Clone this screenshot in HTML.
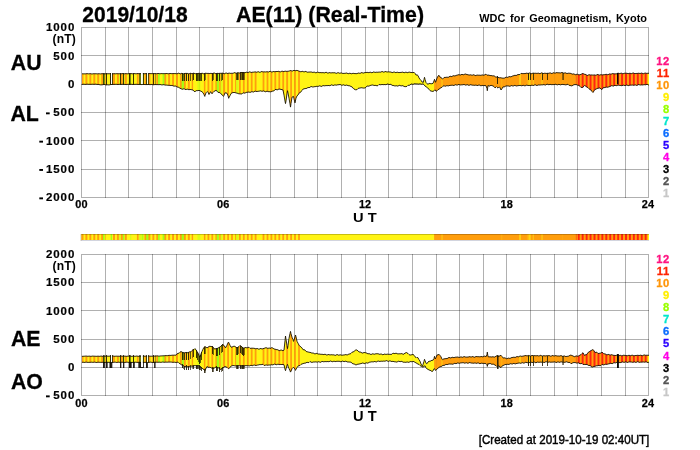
<!DOCTYPE html>
<html><head><meta charset="utf-8"><title>AE(11) (Real-Time) 2019/10/18</title>
<style>html,body{margin:0;padding:0;background:#fff;overflow:hidden}body{width:700px;height:450px;font-family:"Liberation Sans",sans-serif}</style>
</head><body>
<svg width="700" height="450" viewBox="0 0 700 450" style="display:block;will-change:transform"><rect width="700" height="450" fill="#fff"/><g stroke="#000" stroke-opacity="0.31" stroke-width="1" shape-rendering="crispEdges" fill="none"><line x1="81.5" y1="28.0" x2="81.5" y2="197.0"/><line x1="81.5" y1="255.0" x2="81.5" y2="395.0"/><line x1="105.5" y1="27.0" x2="105.5" y2="198.0"/><line x1="105.5" y1="254.0" x2="105.5" y2="396.0"/><line x1="128.5" y1="27.0" x2="128.5" y2="198.0"/><line x1="128.5" y1="254.0" x2="128.5" y2="396.0"/><line x1="152.5" y1="27.0" x2="152.5" y2="198.0"/><line x1="152.5" y1="254.0" x2="152.5" y2="396.0"/><line x1="176.5" y1="27.0" x2="176.5" y2="198.0"/><line x1="176.5" y1="254.0" x2="176.5" y2="396.0"/><line x1="199.5" y1="27.0" x2="199.5" y2="198.0"/><line x1="199.5" y1="254.0" x2="199.5" y2="396.0"/><line x1="223.5" y1="27.0" x2="223.5" y2="198.0"/><line x1="223.5" y1="254.0" x2="223.5" y2="396.0"/><line x1="247.5" y1="27.0" x2="247.5" y2="198.0"/><line x1="247.5" y1="254.0" x2="247.5" y2="396.0"/><line x1="270.5" y1="27.0" x2="270.5" y2="198.0"/><line x1="270.5" y1="254.0" x2="270.5" y2="396.0"/><line x1="294.5" y1="27.0" x2="294.5" y2="198.0"/><line x1="294.5" y1="254.0" x2="294.5" y2="396.0"/><line x1="317.5" y1="27.0" x2="317.5" y2="198.0"/><line x1="317.5" y1="254.0" x2="317.5" y2="396.0"/><line x1="341.5" y1="27.0" x2="341.5" y2="198.0"/><line x1="341.5" y1="254.0" x2="341.5" y2="396.0"/><line x1="365.5" y1="27.0" x2="365.5" y2="198.0"/><line x1="365.5" y1="254.0" x2="365.5" y2="396.0"/><line x1="388.5" y1="27.0" x2="388.5" y2="198.0"/><line x1="388.5" y1="254.0" x2="388.5" y2="396.0"/><line x1="412.5" y1="27.0" x2="412.5" y2="198.0"/><line x1="412.5" y1="254.0" x2="412.5" y2="396.0"/><line x1="436.5" y1="27.0" x2="436.5" y2="198.0"/><line x1="436.5" y1="254.0" x2="436.5" y2="396.0"/><line x1="459.5" y1="27.0" x2="459.5" y2="198.0"/><line x1="459.5" y1="254.0" x2="459.5" y2="396.0"/><line x1="483.5" y1="27.0" x2="483.5" y2="198.0"/><line x1="483.5" y1="254.0" x2="483.5" y2="396.0"/><line x1="506.5" y1="27.0" x2="506.5" y2="198.0"/><line x1="506.5" y1="254.0" x2="506.5" y2="396.0"/><line x1="530.5" y1="27.0" x2="530.5" y2="198.0"/><line x1="530.5" y1="254.0" x2="530.5" y2="396.0"/><line x1="554.5" y1="27.0" x2="554.5" y2="198.0"/><line x1="554.5" y1="254.0" x2="554.5" y2="396.0"/><line x1="577.5" y1="27.0" x2="577.5" y2="198.0"/><line x1="577.5" y1="254.0" x2="577.5" y2="396.0"/><line x1="601.5" y1="27.0" x2="601.5" y2="198.0"/><line x1="601.5" y1="254.0" x2="601.5" y2="396.0"/><line x1="625.5" y1="27.0" x2="625.5" y2="198.0"/><line x1="625.5" y1="254.0" x2="625.5" y2="396.0"/><line x1="648.5" y1="28.0" x2="648.5" y2="197.0"/><line x1="648.5" y1="255.0" x2="648.5" y2="395.0"/><line x1="81.0" y1="27.5" x2="649.0" y2="27.5"/><line x1="81.0" y1="55.5" x2="649.0" y2="55.5"/><line x1="81.0" y1="84.5" x2="649.0" y2="84.5"/><line x1="81.0" y1="112.5" x2="649.0" y2="112.5"/><line x1="81.0" y1="140.5" x2="649.0" y2="140.5"/><line x1="81.0" y1="169.5" x2="649.0" y2="169.5"/><line x1="81.0" y1="197.5" x2="649.0" y2="197.5"/><line x1="81.0" y1="254.5" x2="649.0" y2="254.5"/><line x1="81.0" y1="282.5" x2="649.0" y2="282.5"/><line x1="81.0" y1="310.5" x2="649.0" y2="310.5"/><line x1="81.0" y1="339.5" x2="649.0" y2="339.5"/><line x1="81.0" y1="367.5" x2="649.0" y2="367.5"/><line x1="81.0" y1="395.5" x2="649.0" y2="395.5"/></g><defs><filter id="idf" x="0" y="0" width="700" height="450" filterUnits="userSpaceOnUse" color-interpolation-filters="sRGB"><feOffset dx="0" dy="0"/></filter><clipPath id="c1"><polygon points="82.0,73.7 82.0,73.7 83.0,73.9 84.0,73.8 85.0,73.9 86.0,73.8 87.0,73.6 88.0,73.8 89.0,73.9 90.0,73.6 91.0,73.8 92.0,74.0 93.0,73.8 94.0,73.7 95.0,73.8 96.0,73.7 97.0,73.9 98.0,73.8 99.0,73.7 100.0,73.9 101.0,73.9 102.0,73.6 103.0,73.8 104.0,73.9 105.0,73.8 106.0,73.8 107.0,73.8 108.0,73.7 109.0,73.8 110.0,73.7 111.0,73.6 112.0,74.0 113.0,73.9 114.0,73.6 115.0,73.8 116.0,73.8 117.0,73.6 118.0,73.8 119.0,73.7 120.0,73.8 121.0,73.9 122.0,73.6 123.0,73.6 124.0,73.9 125.0,73.7 126.0,73.6 127.0,73.8 128.0,73.8 129.0,73.6 130.0,73.7 131.0,73.6 132.0,73.7 133.0,73.9 134.0,73.6 135.0,73.6 136.0,73.9 137.0,73.6 138.0,73.5 139.0,73.8 140.0,73.7 141.0,73.7 142.0,73.7 143.0,73.5 144.0,73.7 145.0,73.8 146.0,73.5 147.0,73.7 148.0,73.9 149.0,73.6 150.0,73.5 151.0,73.7 152.0,73.6 153.0,73.7 154.0,73.7 155.0,73.5 156.0,73.8 157.0,73.7 158.0,73.4 159.0,73.6 160.0,73.8 161.0,73.6 162.0,73.6 163.0,73.7 164.0,73.6 165.0,73.7 166.0,73.5 167.0,73.5 168.0,73.8 169.0,73.7 170.0,73.4 171.0,73.6 172.0,73.7 173.0,73.5 174.0,73.6 175.0,73.6 176.0,73.6 177.0,73.9 178.0,73.3 179.0,73.1 180.0,74.0 181.0,73.6 182.0,73.2 183.0,73.9 184.0,73.7 185.0,73.3 186.0,73.5 187.0,73.3 188.0,73.6 189.0,74.0 190.0,73.3 191.0,73.3 192.0,73.9 193.0,73.3 194.0,73.1 195.0,73.8 196.0,73.7 197.0,73.6 198.0,73.6 199.0,73.2 200.0,73.5 201.0,73.7 202.0,73.1 203.0,73.5 204.0,74.0 205.0,73.3 206.0,73.2 207.0,73.5 208.0,73.3 209.0,73.5 210.0,73.6 211.0,73.2 212.0,73.7 213.0,73.6 214.0,72.8 215.0,73.4 216.0,73.8 217.0,73.3 218.0,73.4 219.0,73.5 220.0,73.2 221.0,73.4 222.0,73.2 223.0,73.1 224.0,73.8 225.0,73.6 226.0,72.8 227.0,73.4 228.0,73.5 229.0,73.0 230.0,73.3 231.0,73.4 232.0,73.2 233.0,73.4 234.0,72.8 235.0,72.6 236.0,73.4 237.0,73.0 238.0,72.5 239.0,73.1 240.0,72.9 241.0,72.4 242.0,72.6 243.0,72.4 244.0,72.6 245.0,72.9 246.0,72.2 247.0,72.2 248.0,72.7 249.0,72.0 250.0,71.8 251.0,72.5 252.0,72.3 253.0,72.1 254.0,72.2 255.0,71.8 256.0,72.1 257.0,72.3 258.0,71.6 259.0,72.0 260.0,72.5 261.0,71.7 262.0,71.5 263.0,72.0 264.0,71.8 265.0,71.9 266.0,72.0 267.0,71.6 268.0,72.0 269.0,71.9 270.0,71.1 271.0,71.7 272.0,72.2 273.0,71.5 274.0,71.6 275.0,71.8 276.0,71.4 277.0,71.6 278.0,71.4 279.0,71.3 280.0,72.0 281.0,71.7 282.0,71.0 283.0,71.5 284.0,71.6 285.0,71.1 286.0,71.3 287.0,71.4 288.0,71.2 289.0,71.2 290.0,70.7 291.0,70.5 292.0,71.2 293.0,70.8 294.0,70.2 295.0,70.8 296.0,70.6 297.0,70.3 298.0,70.8 299.0,71.1 300.0,71.5 301.0,71.9 302.0,71.3 303.0,71.4 304.0,72.1 305.0,71.5 306.0,71.4 307.0,72.2 308.0,72.2 309.0,72.0 310.0,72.1 311.0,71.9 312.0,72.2 313.0,72.5 314.0,72.0 315.0,72.4 316.0,73.0 317.0,72.2 318.0,72.1 319.0,72.7 320.0,72.6 321.0,72.6 322.0,72.8 323.0,72.5 324.0,72.9 325.0,72.8 326.0,72.1 327.0,72.7 328.0,73.3 329.0,72.6 330.0,72.7 331.0,73.0 332.0,72.7 333.0,72.8 334.0,72.8 335.0,72.7 336.0,73.4 337.0,73.2 338.0,72.5 339.0,73.1 340.0,73.3 341.0,72.8 342.0,73.2 343.0,73.5 344.0,73.3 345.0,73.4 346.0,73.1 347.0,73.0 348.0,73.8 349.0,73.5 350.0,73.1 351.0,73.8 352.0,73.7 353.0,73.2 354.0,73.5 355.0,73.6 356.0,73.6 357.0,73.7 358.0,73.1 359.0,73.0 360.0,73.5 361.0,72.8 362.0,72.5 363.0,73.2 364.0,72.9 365.0,72.5 366.0,72.6 367.0,72.3 368.0,72.5 369.0,72.7 370.0,72.1 371.0,72.4 372.0,72.9 373.0,72.1 374.0,71.9 375.0,72.5 376.0,72.2 377.0,72.2 378.0,72.3 379.0,72.0 380.0,72.2 381.0,72.1 382.0,71.4 383.0,71.9 384.0,72.3 385.0,71.5 386.0,71.6 387.0,72.1 388.0,71.8 389.0,71.9 390.0,72.0 391.0,72.0 392.0,72.6 393.0,72.5 394.0,71.8 395.0,72.4 396.0,72.7 397.0,72.1 398.0,72.4 399.0,72.7 400.0,72.4 401.0,72.5 402.0,72.2 403.0,72.1 404.0,72.8 405.0,72.5 406.0,72.0 407.0,72.7 408.0,72.6 409.0,72.0 410.0,72.3 411.0,72.5 412.0,72.5 413.0,72.7 414.0,72.3 415.0,73.3 416.0,75.1 417.0,74.8 418.0,75.5 419.0,77.9 420.0,79.3 421.0,80.3 422.0,82.0 423.0,82.2 423.3,82.4 424.0,79.4 424.5,77.3 425.0,79.3 426.0,82.5 427.0,83.7 428.0,84.3 429.0,83.5 430.0,83.4 431.0,83.9 432.0,83.6 433.0,83.4 434.0,80.9 434.5,79.3 435.0,80.7 435.5,82.3 436.0,81.0 437.0,78.1 438.0,76.1 439.0,75.3 440.0,77.1 441.0,77.5 442.0,78.4 442.5,79.0 443.0,78.8 444.0,77.5 445.0,77.4 446.0,77.4 447.0,77.1 448.0,77.4 449.0,77.0 450.0,76.1 451.0,76.5 452.0,76.6 453.0,75.7 454.0,75.8 455.0,76.0 456.0,75.4 457.0,75.2 458.0,74.9 459.0,74.6 460.0,75.1 461.0,74.8 462.0,74.2 463.0,74.8 464.0,74.7 465.0,73.9 466.0,74.2 467.0,74.6 468.0,74.7 469.0,75.1 470.0,74.9 471.0,74.8 472.0,75.4 473.0,74.9 474.0,74.7 475.0,75.6 476.0,75.5 477.0,75.0 478.0,75.2 479.0,75.2 480.0,75.2 481.0,75.4 482.0,74.9 483.0,75.0 484.0,75.4 485.0,74.5 486.0,74.2 487.0,75.2 488.0,75.1 489.0,75.1 490.0,75.6 491.0,75.5 492.0,75.7 493.0,76.0 494.0,75.7 495.0,76.5 496.0,77.3 497.0,76.8 498.0,77.1 499.0,77.9 500.0,77.7 501.0,77.8 502.0,78.1 503.0,78.1 504.0,78.2 505.0,77.9 506.0,77.0 507.0,77.3 508.0,77.4 509.0,76.5 510.0,76.7 511.0,76.9 512.0,76.2 513.0,75.9 514.0,75.6 515.0,75.2 516.0,75.6 517.0,75.1 518.0,74.4 519.0,74.7 520.0,74.4 521.0,73.4 522.0,73.5 523.0,73.7 524.0,73.5 525.0,73.6 526.0,73.3 527.0,73.1 528.0,73.6 529.0,73.1 530.0,72.9 531.0,73.8 532.0,73.6 533.0,73.0 534.0,73.3 535.0,73.3 536.0,73.2 537.0,73.5 538.0,73.1 539.0,73.3 540.0,73.8 541.0,73.0 542.0,72.8 543.0,73.6 544.0,73.4 545.0,73.1 546.0,73.5 547.0,73.3 548.0,73.3 549.0,73.3 550.0,72.8 551.0,73.2 552.0,73.7 553.0,72.8 554.0,72.8 555.0,73.3 556.0,72.7 557.0,72.6 558.0,72.9 559.0,72.7 560.0,73.0 561.0,72.9 562.0,72.3 563.0,72.9 564.0,73.3 565.0,72.7 566.0,73.1 567.0,73.6 568.0,73.2 569.0,73.2 570.0,73.3 571.0,73.4 572.0,74.1 573.0,74.1 574.0,73.8 575.0,74.7 576.0,74.7 577.0,74.0 578.0,74.5 579.0,74.9 580.0,74.7 581.0,74.4 582.0,73.8 583.0,73.4 584.0,74.2 585.0,74.3 586.0,74.6 587.0,75.5 588.0,75.3 589.0,74.6 590.0,75.0 591.0,75.0 592.0,74.9 593.0,75.2 594.0,74.9 595.0,75.0 596.0,75.4 597.0,74.6 598.0,74.4 599.0,75.2 600.0,75.0 601.0,74.6 602.0,75.0 603.0,74.8 604.0,74.7 605.0,74.7 606.0,74.2 607.0,74.5 608.0,74.9 609.0,74.0 610.0,73.9 611.0,74.3 612.0,73.7 613.0,73.6 614.0,73.9 615.0,73.8 616.0,73.9 617.0,73.7 618.0,73.0 619.0,73.5 620.0,73.7 621.0,73.0 622.0,73.4 623.0,73.9 624.0,73.3 625.0,73.2 626.0,73.3 627.0,73.2 628.0,73.7 629.0,73.5 630.0,73.1 631.0,73.7 632.0,73.6 633.0,72.8 634.0,73.3 635.0,73.7 636.0,73.4 637.0,73.5 638.0,73.3 639.0,73.2 640.0,73.6 641.0,73.2 642.0,73.0 643.0,73.8 644.0,73.6 645.0,72.9 646.0,73.3 647.0,73.4 648.0,73.2 649.0,73.4 649.0,85.2 648.0,84.7 647.0,84.2 646.0,84.8 645.0,84.8 644.0,84.6 643.0,85.0 642.0,84.9 641.0,84.9 640.0,85.1 639.0,84.5 638.0,84.7 637.0,85.6 636.0,85.1 635.0,84.8 634.0,85.4 633.0,85.1 632.0,85.0 631.0,85.2 630.0,85.1 629.0,85.5 628.0,85.7 627.0,84.9 626.0,85.2 625.0,85.8 624.0,85.1 623.0,85.2 622.0,85.8 621.0,85.5 620.0,85.4 619.0,85.3 618.0,85.0 617.0,85.6 616.0,85.7 615.0,85.2 614.0,85.8 613.0,86.2 612.0,85.5 611.0,85.9 610.0,86.6 609.0,86.7 608.0,87.2 607.0,87.2 606.0,87.0 605.0,87.7 604.0,87.5 603.0,87.9 602.0,89.5 601.0,89.1 600.0,87.9 599.0,88.1 598.0,88.3 597.0,88.5 596.0,89.2 595.0,89.4 594.0,90.9 593.0,92.5 592.0,91.5 591.0,90.0 590.0,89.6 589.0,88.8 588.0,87.6 587.0,87.2 586.0,86.4 585.0,85.7 584.5,85.4 584.0,86.2 583.0,86.9 582.5,87.9 582.0,87.3 581.0,87.5 580.0,86.3 579.0,85.4 578.0,85.3 577.0,84.9 576.0,84.5 575.0,84.7 574.0,84.6 573.0,85.3 572.0,85.8 571.0,85.9 570.0,85.3 569.0,85.4 568.0,84.3 567.0,84.4 566.0,85.0 565.0,84.7 564.0,84.6 563.0,84.5 562.0,84.3 561.0,84.8 560.0,84.9 559.0,84.2 558.0,84.7 557.0,85.0 556.0,84.2 555.0,84.3 554.0,84.7 553.0,84.5 552.0,84.7 551.0,84.6 550.0,84.3 549.0,84.8 548.0,84.5 547.0,84.0 546.0,84.9 545.0,85.1 544.0,84.5 543.0,84.8 542.0,84.9 541.0,84.8 540.0,85.1 539.0,84.9 538.0,85.0 537.0,85.6 536.0,85.2 535.0,84.6 534.0,85.4 533.0,85.5 532.0,85.1 531.0,85.5 530.0,85.5 529.0,85.4 528.0,85.6 527.0,85.1 526.0,85.3 525.0,86.0 524.0,85.5 523.0,85.2 522.0,85.9 521.0,85.6 520.0,85.3 519.0,85.6 518.0,85.6 517.0,85.9 516.0,86.0 515.0,85.3 514.0,85.6 513.0,86.2 512.0,85.6 511.0,85.6 510.0,86.4 509.0,86.1 508.0,85.9 507.0,86.0 506.0,85.8 505.0,86.6 504.0,87.0 503.0,86.8 502.0,88.7 501.0,90.0 500.0,87.7 499.5,87.1 499.0,87.1 498.0,88.1 497.0,87.2 496.5,86.7 496.0,87.2 495.0,87.9 494.0,86.6 493.0,85.9 492.0,85.7 491.0,85.2 490.0,85.9 489.0,86.2 488.0,85.4 487.3,90.7 487.0,88.5 486.0,85.8 485.0,85.4 484.0,85.7 483.0,85.5 482.0,85.4 481.0,85.9 480.0,85.4 479.0,84.8 478.0,85.5 477.0,85.5 476.0,85.0 475.0,85.3 474.0,85.3 473.0,85.1 472.0,85.2 471.0,84.7 470.0,84.8 469.0,85.5 468.0,84.9 467.0,84.6 466.0,85.2 465.0,84.9 464.0,84.4 463.0,84.8 462.0,84.8 461.0,84.9 460.0,85.0 459.0,84.4 458.0,84.7 457.0,85.3 456.0,84.7 455.0,84.8 454.0,85.6 453.0,85.3 452.0,85.1 451.0,85.4 450.0,85.3 449.0,85.7 448.0,86.0 447.0,85.5 446.0,86.0 445.0,86.3 444.0,85.6 443.0,86.2 442.0,87.3 441.0,87.7 440.0,88.4 439.0,89.2 438.0,89.7 437.0,90.8 436.0,91.3 435.0,89.8 434.0,90.8 433.0,91.5 432.0,91.2 431.0,91.1 430.0,90.6 429.0,89.2 428.0,88.3 427.0,87.5 426.0,86.6 425.0,86.1 424.0,84.7 423.0,83.8 422.0,84.2 421.0,84.2 420.0,83.7 419.0,84.1 418.0,84.1 417.0,83.8 416.0,84.0 415.0,83.7 414.0,83.8 413.0,84.5 412.0,84.0 411.0,84.0 410.0,85.1 409.0,85.3 408.0,85.3 407.0,86.3 406.0,86.7 405.0,86.6 404.0,86.5 403.0,85.7 402.0,85.7 401.0,86.0 400.0,85.4 399.0,85.3 398.0,86.2 397.0,85.9 396.0,85.7 395.0,86.1 394.0,85.6 393.0,85.5 392.0,85.3 391.0,84.4 390.0,84.3 389.0,84.7 388.0,83.9 387.0,84.1 386.0,84.8 385.0,84.5 384.0,84.6 383.0,84.7 382.0,84.4 381.0,84.8 380.0,84.7 379.0,84.5 378.0,85.5 377.0,85.9 376.0,85.4 375.0,85.4 374.0,85.5 373.0,85.0 372.0,85.0 371.0,85.3 370.0,85.5 369.0,86.2 368.0,86.1 367.0,86.0 366.0,87.3 365.0,87.9 364.0,88.1 363.0,88.0 362.0,87.8 361.0,87.7 360.0,88.1 359.0,88.1 358.0,88.5 357.0,89.7 356.0,89.7 355.5,90.0 355.0,89.2 354.0,89.2 353.0,88.1 352.0,86.8 351.0,86.6 350.0,85.9 349.0,85.7 348.0,85.7 347.0,85.1 346.0,85.1 345.0,85.6 344.0,84.9 343.0,84.8 342.0,85.4 341.0,84.9 340.0,84.4 339.0,84.8 338.0,84.7 337.0,85.0 336.0,85.2 335.0,84.8 334.0,85.2 333.0,85.6 332.0,84.8 331.0,85.0 330.0,85.8 329.0,85.5 328.0,85.5 327.0,85.7 326.0,85.5 325.0,85.8 324.0,85.8 323.0,85.5 322.0,86.2 321.0,86.5 320.0,85.7 319.0,86.0 318.0,86.5 317.0,86.2 316.0,86.5 315.0,86.7 314.0,86.7 313.0,87.1 312.0,86.8 311.0,86.4 310.0,87.3 309.0,87.7 308.0,87.4 307.0,88.2 306.0,88.6 305.0,88.5 304.0,88.9 303.0,89.1 302.0,90.3 301.0,91.9 300.0,92.5 299.0,93.2 298.0,95.0 297.0,95.9 296.0,98.1 295.0,102.9 294.0,98.8 293.5,96.4 293.0,96.7 292.0,97.2 291.0,103.5 290.5,107.1 290.0,103.9 289.0,98.2 288.0,92.9 287.5,90.7 287.0,93.7 286.0,100.9 285.5,103.6 285.0,101.0 284.0,95.1 283.0,90.0 282.0,89.6 281.0,89.4 280.0,89.2 279.0,89.0 278.0,89.5 277.0,90.0 276.0,89.3 275.0,89.7 274.0,90.9 273.0,91.0 272.0,91.3 271.0,91.9 270.0,91.7 269.0,91.7 268.0,91.6 267.0,91.1 266.0,91.7 265.0,91.8 264.0,90.9 263.0,91.0 262.0,91.4 261.0,90.9 260.0,90.9 259.0,91.3 258.0,91.2 257.0,91.6 256.0,91.4 255.0,91.0 254.0,91.9 253.0,92.1 252.0,91.5 251.0,92.1 250.0,92.4 249.0,92.0 248.0,92.2 247.0,92.3 246.0,92.4 245.0,93.2 244.0,93.0 243.0,92.8 242.0,93.9 241.0,94.0 240.0,93.8 239.0,93.9 238.0,93.5 237.0,93.1 236.0,93.0 235.0,92.5 234.0,92.5 233.0,92.5 232.0,92.9 231.0,93.5 230.0,95.7 229.0,97.6 228.7,98.3 228.0,95.8 227.0,93.2 226.0,93.0 225.0,92.8 224.0,95.4 223.5,96.4 223.0,95.7 222.0,94.8 221.0,93.9 220.0,92.7 219.0,92.5 218.0,92.4 217.0,91.1 216.0,90.2 215.0,91.0 214.0,91.3 213.0,92.4 212.0,93.8 211.0,92.1 210.5,91.7 210.0,92.9 209.0,94.5 208.0,92.2 207.5,91.7 207.0,91.8 206.0,92.8 205.0,95.6 204.8,96.4 204.0,94.6 203.0,92.7 202.0,91.8 201.0,91.2 200.0,90.8 199.0,90.2 198.0,90.8 197.0,90.5 196.0,90.8 195.0,91.7 194.0,91.3 193.0,90.0 192.0,89.8 191.0,89.6 190.0,89.4 189.0,89.8 188.0,89.4 187.0,89.0 186.0,89.7 185.0,89.3 184.0,88.6 183.0,89.2 182.0,89.2 181.0,88.7 180.0,88.3 179.0,87.5 178.0,87.0 177.0,87.1 176.0,86.1 175.0,86.0 174.0,86.2 173.0,85.8 172.0,85.4 171.0,85.5 170.0,85.4 169.0,85.3 168.0,85.3 167.0,85.1 166.0,85.1 165.0,85.1 164.0,84.7 163.0,84.7 162.0,85.0 161.0,84.7 160.0,84.5 159.0,84.7 158.0,84.6 157.0,84.6 156.0,84.6 155.0,84.5 154.0,84.7 153.0,84.8 152.0,84.4 151.0,84.5 150.0,84.7 149.0,84.5 148.0,84.5 147.0,84.6 146.0,84.5 145.0,84.6 144.0,84.4 143.0,84.3 142.0,84.5 141.0,84.6 140.0,84.3 139.0,84.4 138.0,84.5 137.0,84.3 136.0,84.3 135.0,84.4 134.0,84.4 133.0,84.5 132.0,84.4 131.0,84.2 130.0,84.5 129.0,84.4 128.0,84.2 127.0,84.5 126.0,84.6 125.0,84.4 124.0,84.4 123.0,84.3 122.0,84.3 121.0,84.5 120.0,84.3 119.0,84.3 118.0,84.6 117.0,84.4 116.0,84.2 115.0,84.4 114.0,84.4 113.0,84.4 112.0,84.5 111.0,84.5 110.0,84.7 109.0,85.0 108.0,84.8 107.0,84.8 106.0,85.0 105.0,84.6 104.0,84.4 103.0,84.7 102.0,84.8 101.0,84.9 100.0,84.8 99.0,84.5 98.0,84.4 97.0,84.5 96.0,84.1 95.0,84.2 94.0,84.4 93.0,84.2 92.0,84.2 91.0,84.4 90.0,84.3 89.0,84.3 88.0,84.3 87.0,84.1 86.0,84.4 85.0,84.4 84.0,84.2 83.0,84.3 82.0,84.4 82.0,84.2"/></clipPath><clipPath id="c2"><polygon points="82.0,356.1 82.0,356.3 83.0,356.3 84.0,356.2 85.0,356.2 86.0,356.0 87.0,356.2 88.0,356.3 89.0,356.1 90.0,356.2 91.0,356.4 92.0,356.1 93.0,356.1 94.0,356.2 95.0,356.2 96.0,356.3 97.0,356.3 98.0,356.1 99.0,356.3 100.0,356.3 101.0,356.0 102.0,356.2 103.0,356.4 104.0,356.2 105.0,356.2 106.0,356.2 107.0,356.1 108.0,356.2 109.0,356.2 110.0,356.1 111.0,356.4 112.0,356.3 113.0,356.0 114.0,356.2 115.0,356.3 116.0,356.1 117.0,356.2 118.0,356.2 119.0,356.2 120.0,356.3 121.0,356.1 122.0,356.0 123.0,356.4 124.0,356.2 125.0,356.1 126.0,356.3 127.0,356.3 128.0,356.1 129.0,356.2 130.0,356.1 131.0,356.2 132.0,356.4 133.0,356.1 134.0,356.1 135.0,356.4 136.0,356.1 137.0,356.0 138.0,356.3 139.0,356.3 140.0,356.2 141.0,356.2 142.0,356.1 143.0,356.2 144.0,356.3 145.0,356.1 146.0,356.2 147.0,356.4 148.0,356.1 149.0,356.1 150.0,356.2 151.0,356.2 152.0,356.2 153.0,356.2 154.0,356.0 155.0,356.2 156.0,356.1 157.0,355.8 158.0,356.0 159.0,356.2 160.0,356.0 161.0,355.9 162.0,355.9 163.0,355.8 164.0,355.8 165.0,355.7 166.0,355.5 167.0,355.8 168.0,355.6 169.0,355.3 170.0,355.4 171.0,355.4 172.0,355.2 173.0,355.2 174.0,355.2 175.0,355.1 176.0,355.2 177.0,354.0 178.0,353.2 179.0,353.3 180.0,352.2 181.0,351.4 182.0,352.2 183.0,352.6 184.0,352.9 185.0,352.7 186.0,352.5 187.0,352.6 188.0,352.8 189.0,352.0 190.0,351.8 191.0,351.8 192.0,350.5 193.0,349.6 194.0,349.6 195.0,348.6 196.0,350.0 197.0,351.4 198.0,353.0 199.0,355.2 200.0,357.1 201.0,353.9 202.0,351.4 203.0,349.2 204.0,347.3 205.0,346.4 206.0,347.3 207.0,347.9 208.0,347.2 209.0,346.5 210.0,346.2 211.0,346.6 212.0,346.5 213.0,346.9 214.0,348.6 215.0,349.1 216.0,348.5 217.0,348.5 218.0,348.2 219.0,347.4 220.0,347.1 221.0,346.1 222.0,345.0 223.0,344.3 224.0,346.0 225.0,346.6 225.5,347.9 226.0,347.0 227.0,345.2 228.0,342.8 228.5,342.1 229.0,343.1 230.0,345.3 231.0,347.1 232.0,347.1 233.0,346.5 234.0,346.2 235.0,346.4 236.0,347.3 237.0,347.9 238.0,347.3 239.0,346.4 240.0,345.4 241.0,346.2 242.0,347.0 243.0,347.9 244.0,348.2 245.0,347.6 246.0,347.5 247.0,348.0 248.0,347.4 249.0,347.3 250.0,348.3 251.0,348.3 252.0,348.1 253.0,348.3 254.0,348.2 255.0,348.6 256.0,348.9 257.0,348.4 258.0,348.8 259.0,349.4 260.0,348.6 261.0,348.5 262.0,349.0 263.0,348.7 264.0,348.3 265.0,348.1 266.0,347.6 267.0,348.1 268.0,348.4 269.0,348.0 270.0,348.2 271.0,348.3 271.5,347.6 272.0,347.7 273.0,348.2 274.0,349.0 275.0,349.1 276.0,349.5 277.0,349.7 278.0,349.8 279.0,350.6 280.0,350.6 281.0,349.8 282.0,350.4 283.0,350.7 284.0,350.1 285.0,340.8 285.5,336.0 286.0,339.4 287.0,345.4 287.5,348.6 288.0,345.4 289.0,338.4 290.0,333.5 290.5,331.4 291.0,333.7 292.0,337.2 293.0,339.6 293.5,341.4 294.0,340.1 295.0,336.8 295.5,335.0 296.0,336.7 297.0,341.3 298.0,343.2 299.0,345.1 300.0,346.4 301.0,346.9 302.0,348.0 303.0,349.7 304.0,349.7 305.0,350.0 306.0,351.4 307.0,351.8 308.0,351.9 309.0,352.3 310.0,352.3 311.0,352.7 312.0,353.2 313.0,352.9 314.0,353.4 315.0,354.1 316.0,353.4 317.0,353.4 318.0,354.1 319.0,354.0 320.0,354.1 321.0,354.4 322.0,354.2 323.0,354.5 324.0,354.6 325.0,354.1 326.0,354.7 327.0,355.2 328.0,354.5 329.0,354.6 330.0,355.0 331.0,354.7 332.0,354.8 333.0,354.9 334.0,354.8 335.0,355.4 336.0,355.2 337.0,354.4 338.0,355.0 339.0,355.3 340.0,354.7 341.0,355.0 342.0,355.3 343.0,355.0 344.0,355.0 345.0,354.8 346.0,354.5 347.0,355.1 348.0,354.6 349.0,353.9 350.0,354.0 351.0,353.4 352.0,352.2 353.0,352.0 354.0,351.4 355.0,350.6 356.0,349.7 357.0,350.2 358.0,350.8 359.0,352.0 360.0,352.0 361.0,352.2 362.0,353.1 363.0,353.0 364.0,352.4 365.0,352.7 366.0,352.8 367.0,353.3 368.0,353.9 369.0,353.6 370.0,354.0 371.0,354.6 372.0,354.0 373.0,353.7 374.0,354.3 375.0,354.0 376.0,353.7 377.0,353.8 378.0,353.7 379.0,354.1 380.0,354.4 381.0,353.8 382.0,354.4 383.0,354.9 384.0,354.1 385.0,354.1 386.0,354.5 387.0,354.1 388.0,354.2 389.0,354.4 390.0,354.2 391.0,354.5 392.0,354.1 393.0,353.1 394.0,353.5 395.0,353.6 396.0,353.1 397.0,353.6 398.0,354.0 399.0,353.7 400.0,353.9 401.0,353.7 402.0,353.6 403.0,354.3 404.0,354.1 405.0,352.9 406.0,353.0 406.5,352.4 407.0,353.1 408.0,353.4 409.0,354.5 410.0,355.2 411.0,354.8 412.0,354.8 413.0,354.3 414.0,355.2 415.0,356.8 416.0,357.4 416.5,358.0 417.0,357.5 418.0,357.7 419.0,359.7 420.0,361.2 421.0,364.0 422.0,365.4 422.5,366.3 423.0,364.5 424.0,361.3 424.5,359.3 425.0,360.6 426.0,363.0 426.5,363.7 427.0,363.7 428.0,362.0 429.0,361.2 430.0,361.3 431.0,360.8 432.0,360.2 433.0,360.3 434.0,358.5 434.5,356.3 435.0,358.0 435.3,359.0 436.0,357.5 437.0,354.9 438.0,354.9 439.0,354.3 440.0,355.4 441.0,356.8 442.0,359.1 442.5,359.7 443.0,359.3 444.0,358.8 445.0,358.8 446.0,358.5 447.0,358.6 448.0,358.1 449.0,357.3 450.0,357.8 451.0,358.0 452.0,357.2 453.0,357.4 454.0,357.7 455.0,357.2 456.0,357.2 457.0,357.1 458.0,357.0 459.0,357.5 460.0,357.3 461.0,356.7 462.0,357.3 463.0,357.2 464.0,356.5 465.0,356.9 466.0,357.2 467.0,357.0 468.0,357.1 469.0,356.8 470.0,356.6 471.0,357.2 472.0,356.7 473.0,356.5 474.0,357.3 475.0,357.1 476.0,356.4 477.0,356.7 478.0,356.7 479.0,356.7 480.0,356.9 481.0,356.5 482.0,356.6 483.0,357.0 484.0,356.2 485.0,356.0 486.0,356.8 487.0,354.4 487.3,352.1 488.0,356.6 489.0,356.9 490.0,356.8 491.0,356.9 492.0,357.0 493.0,356.6 494.0,357.2 495.0,357.0 496.0,355.9 497.0,356.0 498.0,356.6 499.0,356.3 500.0,355.7 501.0,355.3 502.0,356.5 503.0,357.9 504.0,358.0 505.0,357.7 506.0,358.6 507.0,358.9 508.0,358.0 509.0,358.2 510.0,358.5 511.0,357.8 512.0,357.5 513.0,357.4 514.0,357.1 515.0,357.5 516.0,357.1 517.0,356.4 518.0,356.9 519.0,356.7 520.0,355.9 521.0,356.2 522.0,356.4 523.0,356.0 524.0,356.0 525.0,355.6 526.0,355.5 527.0,356.0 528.0,355.6 529.0,355.3 530.0,356.2 531.0,356.0 532.0,355.3 533.0,355.7 534.0,355.7 535.0,355.6 536.0,355.9 537.0,355.6 538.0,355.7 539.0,356.2 540.0,355.4 541.0,355.3 542.0,356.2 543.0,355.9 544.0,355.6 545.0,356.0 546.0,355.8 547.0,355.7 548.0,355.8 549.0,355.5 550.0,355.9 551.0,356.4 552.0,355.6 553.0,355.5 554.0,356.2 555.0,355.7 556.0,355.6 557.0,356.1 558.0,355.9 559.0,356.1 560.0,356.0 561.0,355.5 562.0,356.1 563.0,356.5 564.0,355.8 565.0,356.2 566.0,356.7 567.0,356.2 568.0,356.4 569.0,355.9 570.0,355.3 571.0,355.0 572.0,355.7 573.0,355.8 574.0,356.7 575.0,356.7 576.0,355.8 577.0,356.1 578.0,356.4 579.0,355.6 580.0,355.2 581.0,354.6 582.0,353.5 583.0,352.7 584.0,354.5 584.5,355.5 585.0,354.8 586.0,355.0 587.0,354.2 588.0,352.5 589.0,352.0 590.0,351.2 591.0,350.5 592.0,350.2 593.0,349.5 594.0,350.8 595.0,352.6 596.0,352.2 597.0,352.3 598.0,353.5 599.0,353.4 600.0,353.2 601.0,353.0 602.0,352.2 603.0,352.9 604.0,353.9 605.0,353.8 606.0,354.4 607.0,355.0 608.0,354.4 609.0,354.5 610.0,355.2 611.0,354.8 612.0,354.7 613.0,355.3 614.0,355.3 615.0,355.5 616.0,355.5 617.0,355.0 618.0,355.5 619.0,355.9 620.0,355.2 621.0,355.5 622.0,356.0 623.0,355.3 624.0,355.2 625.0,355.5 626.0,355.4 627.0,355.8 628.0,355.7 629.0,355.1 630.0,355.7 631.0,355.7 632.0,355.0 633.0,355.5 634.0,355.9 635.0,355.5 636.0,355.5 637.0,355.4 638.0,355.2 639.0,355.6 640.0,355.3 641.0,355.1 642.0,355.8 643.0,355.6 644.0,354.8 645.0,355.2 646.0,355.4 647.0,355.1 648.0,355.4 649.0,355.2 649.0,361.9 648.0,362.7 647.0,362.2 646.0,361.7 645.0,362.2 644.0,362.1 643.0,361.9 642.0,362.2 641.0,362.1 640.0,362.2 639.0,362.4 638.0,361.6 637.0,361.8 636.0,362.6 635.0,362.0 634.0,361.9 633.0,362.4 632.0,362.1 631.0,362.0 630.0,362.0 629.0,361.8 628.0,362.3 627.0,362.5 626.0,361.7 625.0,362.0 624.0,362.5 623.0,361.9 622.0,362.0 621.0,362.6 620.0,362.5 619.0,362.6 618.0,362.5 617.0,362.1 616.0,362.8 615.0,363.0 614.0,362.5 613.0,363.3 612.0,363.8 611.0,363.2 610.0,363.5 609.0,363.9 608.0,363.9 607.0,364.4 606.0,364.3 605.0,364.2 604.0,365.0 603.0,364.8 602.0,364.4 601.0,365.4 600.0,365.8 599.0,365.4 598.0,365.7 597.0,365.8 596.0,365.8 595.0,366.4 594.0,366.4 593.0,366.8 592.0,367.2 591.0,366.3 590.0,365.4 589.0,365.6 588.0,365.1 587.0,364.4 586.0,364.6 585.0,364.4 584.0,364.4 583.0,364.5 582.0,363.5 581.0,363.4 580.0,363.9 579.0,363.1 578.0,362.7 577.0,363.2 576.0,362.8 575.0,362.5 574.0,362.6 573.0,362.6 572.0,363.3 571.0,363.7 570.0,362.5 569.0,362.4 568.0,362.5 567.0,361.8 566.0,361.8 565.0,362.4 564.0,362.2 563.0,362.2 562.0,362.1 561.0,361.7 560.0,362.3 559.0,362.3 558.0,361.7 557.0,362.3 556.0,362.6 555.0,361.8 554.0,361.9 553.0,362.2 552.0,362.0 551.0,362.3 550.0,362.1 549.0,361.9 548.0,362.4 547.0,362.1 546.0,361.5 545.0,362.3 544.0,362.6 543.0,362.0 542.0,362.2 541.0,362.2 540.0,362.1 539.0,362.4 538.0,362.1 537.0,362.1 536.0,362.9 535.0,362.4 534.0,361.8 533.0,362.5 532.0,362.5 531.0,362.1 530.0,362.5 529.0,362.5 528.0,362.6 527.0,362.8 526.0,362.2 525.0,362.5 524.0,363.3 523.0,362.8 522.0,362.6 521.0,363.4 520.0,363.1 519.0,362.9 518.0,363.3 517.0,363.3 516.0,363.7 515.0,364.0 514.0,363.3 513.0,363.7 512.0,364.2 511.0,363.6 510.0,363.8 509.0,364.5 508.0,364.3 507.0,364.3 506.0,364.5 505.0,364.5 504.0,365.2 503.0,365.5 502.0,366.1 501.0,367.6 500.0,367.1 499.0,365.7 498.0,366.3 497.5,367.0 497.0,366.7 496.0,365.6 495.0,365.2 494.0,364.4 493.0,364.0 492.0,364.4 491.0,363.9 490.0,363.3 489.0,363.9 488.0,364.0 487.9,363.6 487.3,366.4 487.0,364.8 486.0,363.6 485.0,363.6 484.0,363.3 483.0,363.5 482.0,363.2 481.0,363.2 480.0,363.8 479.0,363.3 478.0,362.7 477.0,363.3 476.0,363.3 475.0,362.8 474.0,363.2 473.0,363.2 472.0,363.0 471.0,363.1 470.0,362.5 469.0,362.7 468.0,363.4 467.0,362.9 466.0,362.6 465.0,363.3 464.0,362.9 463.0,362.6 462.0,362.9 461.0,362.8 460.0,363.1 459.0,363.4 458.0,362.8 457.0,363.2 456.0,363.8 455.0,363.3 454.0,363.5 453.0,364.3 452.0,364.1 451.0,364.0 450.0,364.1 449.0,363.9 448.0,364.4 447.0,364.7 446.0,364.3 445.0,365.0 444.0,365.5 443.0,365.3 442.0,366.0 441.0,366.7 440.0,366.7 439.0,367.5 438.0,368.1 437.0,369.0 436.0,370.2 435.3,370.3 435.0,369.7 434.5,368.7 434.0,368.8 433.0,370.9 432.0,371.6 431.0,370.7 430.0,370.3 429.0,370.0 428.0,369.3 427.0,368.9 426.0,367.9 425.0,365.7 424.0,366.5 423.0,367.0 422.7,367.3 422.0,366.2 421.0,366.2 420.0,365.5 419.0,364.4 418.0,364.1 417.0,363.5 416.0,362.8 415.0,362.4 414.0,361.6 413.0,361.4 412.0,361.8 411.0,361.6 410.0,361.6 409.0,362.4 408.0,362.2 407.0,361.9 406.0,362.4 405.0,362.2 404.0,362.2 403.0,362.2 402.0,361.4 401.0,361.4 400.0,361.8 399.0,361.2 398.0,361.3 397.0,362.2 396.0,361.9 395.0,361.8 394.0,361.7 393.0,361.3 392.0,361.5 391.0,361.4 390.0,360.7 389.0,361.2 388.0,361.5 387.0,360.6 386.0,360.7 385.0,361.3 384.0,361.0 383.0,361.2 382.0,361.3 381.0,361.1 380.0,361.5 379.0,361.3 378.0,360.9 377.0,361.7 376.0,362.1 375.0,361.4 374.0,361.7 373.0,362.0 372.0,361.7 371.0,362.0 370.0,362.1 369.0,362.3 368.0,363.2 367.0,363.0 366.0,362.7 365.0,363.6 364.0,363.6 363.0,362.9 362.0,363.2 361.0,363.7 360.0,363.7 359.0,364.2 358.0,364.1 357.0,364.5 356.0,365.0 355.0,364.5 354.0,363.8 353.0,364.0 352.0,363.1 351.0,362.2 350.0,362.1 349.0,362.0 348.0,362.0 347.0,361.9 346.0,361.2 345.0,361.3 344.0,361.8 343.0,361.1 342.0,361.1 341.0,361.9 340.0,361.5 339.0,361.2 338.0,361.4 337.0,361.2 336.0,361.5 335.0,361.6 334.0,361.1 333.0,361.6 332.0,361.8 331.0,361.0 330.0,361.1 329.0,361.8 328.0,361.5 327.0,361.6 326.0,361.7 325.0,361.5 324.0,361.8 323.0,361.7 322.0,361.3 321.0,362.1 320.0,362.4 319.0,361.6 318.0,361.9 317.0,362.2 316.0,361.8 315.0,362.0 314.0,362.0 313.0,362.0 312.0,362.5 311.0,362.1 310.0,361.5 309.0,362.5 308.0,362.6 307.0,362.2 306.0,362.9 305.0,363.2 304.0,363.2 303.0,363.7 302.0,363.9 301.0,364.4 300.0,365.5 299.0,365.7 298.0,366.1 297.0,367.5 296.0,369.3 295.5,370.4 295.0,369.1 294.0,368.0 293.5,367.1 293.0,367.7 292.0,368.7 291.0,371.2 290.5,372.1 290.0,370.7 289.0,368.5 288.0,366.1 287.5,364.3 287.0,365.6 286.0,368.8 285.5,370.7 285.0,369.2 284.0,364.8 283.0,364.4 282.0,364.6 281.0,364.4 280.0,364.5 279.0,364.6 278.0,364.1 277.0,364.5 276.0,364.9 275.0,364.0 274.0,364.2 273.0,365.0 272.0,364.7 271.0,364.8 270.0,365.1 269.0,364.9 268.0,365.2 267.0,365.2 266.0,364.8 265.0,365.4 264.0,365.4 263.0,364.4 262.0,364.4 261.0,364.8 260.0,364.5 259.0,364.8 258.0,365.0 257.0,365.1 256.0,365.6 255.0,365.3 254.0,364.8 253.0,365.6 252.0,365.7 251.0,365.2 250.0,365.7 249.0,366.0 248.0,365.6 247.0,365.7 246.0,365.6 245.0,365.7 244.0,366.3 243.0,365.9 242.0,365.6 241.0,366.3 240.0,366.0 239.0,365.5 238.0,366.0 237.0,366.1 236.0,365.9 235.0,366.0 234.0,365.5 233.0,365.6 232.0,365.7 231.0,366.3 230.0,367.1 229.0,368.7 228.5,368.6 228.0,368.4 227.0,367.3 226.0,367.0 225.0,366.4 224.0,367.1 223.0,368.0 222.0,368.4 221.0,369.3 220.0,369.3 219.0,368.0 218.0,367.7 217.0,367.9 216.0,367.1 215.0,367.5 214.0,368.3 213.0,368.6 212.0,368.3 211.0,367.8 210.0,367.1 209.0,367.4 208.0,367.3 207.0,366.4 206.0,368.4 205.0,370.7 204.0,369.6 203.0,368.9 202.0,368.2 201.0,367.3 200.0,366.7 199.0,366.2 198.0,365.6 197.0,366.2 196.0,366.1 195.0,365.3 194.0,366.0 193.0,366.4 192.0,366.0 191.0,366.2 190.0,366.3 189.0,366.4 188.0,366.9 187.0,366.5 186.0,366.2 185.0,366.9 184.0,366.5 183.0,365.2 182.0,365.1 181.0,364.6 180.0,363.7 179.0,363.2 178.0,362.2 177.0,362.2 176.0,362.6 175.0,362.2 174.0,362.2 173.0,362.4 172.0,362.2 171.0,362.0 170.0,362.1 169.0,362.1 168.0,362.1 167.0,362.2 166.0,362.1 165.0,362.2 164.0,362.3 163.0,362.0 162.0,362.1 161.0,362.4 160.0,362.2 159.0,362.2 158.0,362.3 157.0,362.2 156.0,362.2 155.0,362.2 154.0,362.1 153.0,362.4 152.0,362.5 151.0,362.1 150.0,362.2 149.0,362.4 148.0,362.2 147.0,362.2 146.0,362.4 145.0,362.3 144.0,362.4 143.0,362.3 142.0,362.1 141.0,362.4 140.0,362.4 139.0,362.2 138.0,362.4 137.0,362.4 136.0,362.2 135.0,362.2 134.0,362.3 133.0,362.3 132.0,362.5 131.0,362.3 130.0,362.2 129.0,362.4 128.0,362.3 127.0,362.1 126.0,362.3 125.0,362.4 124.0,362.3 123.0,362.3 122.0,362.2 121.0,362.2 120.0,362.4 119.0,362.2 118.0,362.2 117.0,362.5 116.0,362.3 115.0,362.1 114.0,362.3 113.0,362.3 112.0,362.3 111.0,362.4 110.0,362.3 109.0,362.3 108.0,362.4 107.0,362.1 106.0,362.2 105.0,362.5 104.0,362.3 103.0,362.2 102.0,362.4 101.0,362.3 100.0,362.3 99.0,362.3 98.0,362.2 97.0,362.4 96.0,362.5 95.0,362.1 94.0,362.2 93.0,362.4 92.0,362.2 91.0,362.2 90.0,362.4 89.0,362.3 88.0,362.4 87.0,362.3 86.0,362.1 85.0,362.4 84.0,362.4 83.0,362.2 82.0,362.4 82.0,362.5"/></clipPath></defs><g clip-path="url(#c1)" shape-rendering="crispEdges"><rect x="82" y="60" width="1" height="52" fill="#ff9e0d"/><rect x="83" y="60" width="1" height="52" fill="#ffc910"/><rect x="84" y="60" width="1" height="52" fill="#fff414"/><rect x="85" y="60" width="1" height="52" fill="#ffc010"/><rect x="86" y="60" width="1" height="52" fill="#ff9e0d"/><rect x="87" y="60" width="1" height="52" fill="#ffd211"/><rect x="88" y="60" width="1" height="52" fill="#fff414"/><rect x="89" y="60" width="1" height="52" fill="#ffc010"/><rect x="90" y="60" width="1" height="52" fill="#ff9e0d"/><rect x="91" y="60" width="1" height="52" fill="#ffda12"/><rect x="92" y="60" width="1" height="52" fill="#fff414"/><rect x="93" y="60" width="1" height="52" fill="#ffb80f"/><rect x="94" y="60" width="1" height="52" fill="#ff9e0d"/><rect x="95" y="60" width="1" height="52" fill="#ffda12"/><rect x="96" y="60" width="1" height="52" fill="#fff414"/><rect x="97" y="60" width="1" height="52" fill="#ffaf0e"/><rect x="98" y="60" width="1" height="52" fill="#ff9e0d"/><rect x="99" y="60" width="1" height="52" fill="#ffe313"/><rect x="100" y="60" width="1" height="52" fill="#fff414"/><rect x="101" y="60" width="1" height="52" fill="#ffaf0e"/><rect x="102" y="60" width="1" height="52" fill="#ff9e0d"/><rect x="103" y="60" width="1" height="52" fill="#a4ff12"/><rect x="104" y="60" width="1" height="52" fill="#c8fb13"/><rect x="105" y="60" width="1" height="52" fill="#ffc010"/><rect x="106" y="60" width="4" height="52" fill="#fff414"/><rect x="110" y="60" width="1" height="52" fill="#e4f713"/><rect x="111" y="60" width="1" height="52" fill="#a4ff12"/><rect x="112" y="60" width="1" height="52" fill="#f6f514"/><rect x="113" y="60" width="2" height="52" fill="#ff9e0d"/><rect x="115" y="60" width="1" height="52" fill="#fff414"/><rect x="116" y="60" width="1" height="52" fill="#ffeb13"/><rect x="117" y="60" width="1" height="52" fill="#ff9e0d"/><rect x="118" y="60" width="1" height="52" fill="#ffa70e"/><rect x="119" y="60" width="1" height="52" fill="#dcfa14"/><rect x="120" y="60" width="1" height="52" fill="#eeee13"/><rect x="121" y="60" width="1" height="52" fill="#ff9e0d"/><rect x="122" y="60" width="1" height="52" fill="#f6b00e"/><rect x="123" y="60" width="1" height="52" fill="#a4ff12"/><rect x="124" y="60" width="1" height="52" fill="#e4e612"/><rect x="125" y="60" width="1" height="52" fill="#ff9e0d"/><rect x="126" y="60" width="1" height="52" fill="#ffaf0e"/><rect x="127" y="60" width="3" height="52" fill="#fff414"/><rect x="130" y="60" width="1" height="52" fill="#e0f914"/><rect x="131" y="60" width="1" height="52" fill="#f4f614"/><rect x="132" y="60" width="4" height="52" fill="#fff414"/><rect x="136" y="60" width="1" height="52" fill="#ffeb13"/><rect x="137" y="60" width="1" height="52" fill="#ff9e0d"/><rect x="138" y="60" width="1" height="52" fill="#ffc010"/><rect x="139" y="60" width="3" height="52" fill="#dcfa14"/><rect x="142" y="60" width="1" height="52" fill="#b5fe13"/><rect x="143" y="60" width="1" height="52" fill="#dbf813"/><rect x="144" y="60" width="1" height="52" fill="#ffc910"/><rect x="145" y="60" width="1" height="52" fill="#ff9e0d"/><rect x="146" y="60" width="1" height="52" fill="#b6ec11"/><rect x="147" y="60" width="1" height="52" fill="#a4ff12"/><rect x="148" y="60" width="1" height="52" fill="#dbc50f"/><rect x="149" y="60" width="1" height="52" fill="#ff9e0d"/><rect x="150" y="60" width="1" height="52" fill="#ffd211"/><rect x="151" y="60" width="1" height="52" fill="#fff414"/><rect x="152" y="60" width="1" height="52" fill="#ffc010"/><rect x="153" y="60" width="1" height="52" fill="#ff9e0d"/><rect x="154" y="60" width="1" height="52" fill="#ffda12"/><rect x="155" y="60" width="1" height="52" fill="#fff414"/><rect x="156" y="60" width="1" height="52" fill="#ffb80f"/><rect x="157" y="60" width="1" height="52" fill="#ff9e0d"/><rect x="158" y="60" width="1" height="52" fill="#a4ff12"/><rect x="159" y="60" width="1" height="52" fill="#b6fd12"/><rect x="160" y="60" width="2" height="52" fill="#fff414"/><rect x="162" y="60" width="1" height="52" fill="#dbf813"/><rect x="163" y="60" width="1" height="52" fill="#a4ff12"/><rect x="164" y="60" width="1" height="52" fill="#dbc50f"/><rect x="165" y="60" width="1" height="52" fill="#ff9e0d"/><rect x="166" y="60" width="1" height="52" fill="#ffe313"/><rect x="167" y="60" width="1" height="52" fill="#fff414"/><rect x="168" y="60" width="1" height="52" fill="#ffa70e"/><rect x="169" y="60" width="1" height="52" fill="#ff9e0d"/><rect x="170" y="60" width="1" height="52" fill="#ffeb13"/><rect x="171" y="60" width="1" height="52" fill="#fff414"/><rect x="172" y="60" width="1" height="52" fill="#ffa70e"/><rect x="173" y="60" width="1" height="52" fill="#ff9e0d"/><rect x="174" y="60" width="2" height="52" fill="#fff414"/><rect x="176" y="60" width="2" height="52" fill="#ff9e0d"/><rect x="178" y="60" width="1" height="52" fill="#fff414"/><rect x="179" y="60" width="1" height="52" fill="#ffeb13"/><rect x="180" y="60" width="1" height="52" fill="#ff9e0d"/><rect x="181" y="60" width="1" height="52" fill="#e4bb0e"/><rect x="182" y="60" width="1" height="52" fill="#a4ff12"/><rect x="183" y="60" width="1" height="52" fill="#adf512"/><rect x="184" y="60" width="1" height="52" fill="#ff9e0d"/><rect x="185" y="60" width="1" height="52" fill="#ffaf0e"/><rect x="186" y="60" width="1" height="52" fill="#fff414"/><rect x="187" y="60" width="1" height="52" fill="#ffe313"/><rect x="188" y="60" width="1" height="52" fill="#ff9e0d"/><rect x="189" y="60" width="1" height="52" fill="#ffaf0e"/><rect x="190" y="60" width="1" height="52" fill="#fff414"/><rect x="191" y="60" width="1" height="52" fill="#ffda12"/><rect x="192" y="60" width="1" height="52" fill="#ff9e0d"/><rect x="193" y="60" width="1" height="52" fill="#ffeb13"/><rect x="194" y="60" width="3" height="52" fill="#fff414"/><rect x="197" y="60" width="1" height="52" fill="#eaf814"/><rect x="198" y="60" width="2" height="52" fill="#dcfa14"/><rect x="200" y="60" width="1" height="52" fill="#f4f614"/><rect x="201" y="60" width="2" height="52" fill="#fff414"/><rect x="203" y="60" width="1" height="52" fill="#ffeb13"/><rect x="204" y="60" width="1" height="52" fill="#ff9e0d"/><rect x="205" y="60" width="1" height="52" fill="#ffd211"/><rect x="206" y="60" width="1" height="52" fill="#fff414"/><rect x="207" y="60" width="1" height="52" fill="#ffc910"/><rect x="208" y="60" width="1" height="52" fill="#ff9e0d"/><rect x="209" y="60" width="1" height="52" fill="#ffda12"/><rect x="210" y="60" width="1" height="52" fill="#fff414"/><rect x="211" y="60" width="1" height="52" fill="#ffc010"/><rect x="212" y="60" width="1" height="52" fill="#ff9e0d"/><rect x="213" y="60" width="1" height="52" fill="#ffe313"/><rect x="214" y="60" width="1" height="52" fill="#fff414"/><rect x="215" y="60" width="1" height="52" fill="#ffc010"/><rect x="216" y="60" width="1" height="52" fill="#e4bb0e"/><rect x="217" y="60" width="1" height="52" fill="#a4ff12"/><rect x="218" y="60" width="1" height="52" fill="#adfe12"/><rect x="219" y="60" width="1" height="52" fill="#ffb80f"/><rect x="220" y="60" width="1" height="52" fill="#f1c310"/><rect x="221" y="60" width="1" height="52" fill="#dcfa14"/><rect x="222" y="60" width="1" height="52" fill="#f1f614"/><rect x="223" y="60" width="1" height="52" fill="#ffaf0e"/><rect x="224" y="60" width="1" height="52" fill="#ff9e0d"/><rect x="225" y="60" width="1" height="52" fill="#ffeb13"/><rect x="226" y="60" width="1" height="52" fill="#fff414"/><rect x="227" y="60" width="1" height="52" fill="#ffaf0e"/><rect x="228" y="60" width="1" height="52" fill="#ff9e0d"/><rect x="229" y="60" width="2" height="52" fill="#fff414"/><rect x="231" y="60" width="2" height="52" fill="#ffa70e"/><rect x="233" y="60" width="2" height="52" fill="#fff414"/><rect x="235" y="60" width="1" height="52" fill="#ffa70e"/><rect x="236" y="60" width="1" height="52" fill="#e0f113"/><rect x="237" y="60" width="1" height="52" fill="#dcfa14"/><rect x="238" y="60" width="1" height="52" fill="#eaf814"/><rect x="239" y="60" width="1" height="52" fill="#ff9e0d"/><rect x="240" y="60" width="1" height="52" fill="#ffaf0e"/><rect x="241" y="60" width="1" height="52" fill="#fff414"/><rect x="242" y="60" width="1" height="52" fill="#ffeb13"/><rect x="243" y="60" width="1" height="52" fill="#ff9e0d"/><rect x="244" y="60" width="1" height="52" fill="#ffb80f"/><rect x="245" y="60" width="1" height="52" fill="#fff414"/><rect x="246" y="60" width="1" height="52" fill="#ffeb13"/><rect x="247" y="60" width="1" height="52" fill="#ff9e0d"/><rect x="248" y="60" width="1" height="52" fill="#ffb80f"/><rect x="249" y="60" width="1" height="52" fill="#fff414"/><rect x="250" y="60" width="1" height="52" fill="#ffe313"/><rect x="251" y="60" width="1" height="52" fill="#ff9e0d"/><rect x="252" y="60" width="1" height="52" fill="#ffc010"/><rect x="253" y="60" width="1" height="52" fill="#fff414"/><rect x="254" y="60" width="1" height="52" fill="#ffda12"/><rect x="255" y="60" width="1" height="52" fill="#ff9e0d"/><rect x="256" y="60" width="1" height="52" fill="#ffc910"/><rect x="257" y="60" width="5" height="52" fill="#fff414"/><rect x="262" y="60" width="1" height="52" fill="#ffd211"/><rect x="263" y="60" width="1" height="52" fill="#ff9e0d"/><rect x="264" y="60" width="1" height="52" fill="#ffd211"/><rect x="265" y="60" width="1" height="52" fill="#fff414"/><rect x="266" y="60" width="1" height="52" fill="#ffd211"/><rect x="267" y="60" width="1" height="52" fill="#ff9e0d"/><rect x="268" y="60" width="1" height="52" fill="#ffd211"/><rect x="269" y="60" width="1" height="52" fill="#fff414"/><rect x="270" y="60" width="1" height="52" fill="#ffc910"/><rect x="271" y="60" width="1" height="52" fill="#ff9e0d"/><rect x="272" y="60" width="1" height="52" fill="#ffda12"/><rect x="273" y="60" width="1" height="52" fill="#fff414"/><rect x="274" y="60" width="1" height="52" fill="#ffc010"/><rect x="275" y="60" width="1" height="52" fill="#ff9e0d"/><rect x="276" y="60" width="1" height="52" fill="#ffe313"/><rect x="277" y="60" width="1" height="52" fill="#fff414"/><rect x="278" y="60" width="1" height="52" fill="#ffc010"/><rect x="279" y="60" width="1" height="52" fill="#ff9e0d"/><rect x="280" y="60" width="1" height="52" fill="#ffe313"/><rect x="281" y="60" width="1" height="52" fill="#fff414"/><rect x="282" y="60" width="1" height="52" fill="#ffb80f"/><rect x="283" y="60" width="1" height="52" fill="#ff9e0d"/><rect x="284" y="60" width="1" height="52" fill="#ffeb13"/><rect x="285" y="60" width="1" height="52" fill="#fff414"/><rect x="286" y="60" width="1" height="52" fill="#ffaf0e"/><rect x="287" y="60" width="1" height="52" fill="#ff9e0d"/><rect x="288" y="60" width="1" height="52" fill="#ffeb13"/><rect x="289" y="60" width="1" height="52" fill="#fff414"/><rect x="290" y="60" width="1" height="52" fill="#ffaf0e"/><rect x="291" y="60" width="1" height="52" fill="#ff9e0d"/><rect x="292" y="60" width="2" height="52" fill="#fff414"/><rect x="294" y="60" width="2" height="52" fill="#ffa70e"/><rect x="296" y="60" width="2" height="52" fill="#fff414"/><rect x="298" y="60" width="2" height="52" fill="#ffa70e"/><rect x="300" y="60" width="134" height="52" fill="#fff414"/><rect x="434" y="60" width="1" height="52" fill="#ffa70e"/><rect x="435" y="60" width="6" height="52" fill="#ff9e0d"/><rect x="441" y="60" width="1" height="52" fill="#ffb60f"/><rect x="442" y="60" width="1" height="52" fill="#ffb90f"/><rect x="443" y="60" width="58" height="52" fill="#ff9e0d"/><rect x="501" y="60" width="1" height="52" fill="#ffad0e"/><rect x="502" y="60" width="1" height="52" fill="#ffa30d"/><rect x="503" y="60" width="16" height="52" fill="#ff9e0d"/><rect x="519" y="60" width="1" height="52" fill="#ffc910"/><rect x="520" y="60" width="1" height="52" fill="#ffcd11"/><rect x="521" y="60" width="5" height="52" fill="#ff9e0d"/><rect x="526" y="60" width="1" height="52" fill="#ffa00d"/><rect x="527" y="60" width="1" height="52" fill="#ffaf0e"/><rect x="528" y="60" width="1" height="52" fill="#ffbf10"/><rect x="529" y="60" width="1" height="52" fill="#ffd612"/><rect x="530" y="60" width="1" height="52" fill="#ffc510"/><rect x="531" y="60" width="1" height="52" fill="#ff9e0d"/><rect x="532" y="60" width="1" height="52" fill="#ffaa0e"/><rect x="533" y="60" width="1" height="52" fill="#ffc110"/><rect x="534" y="60" width="7" height="52" fill="#ff9e0d"/><rect x="541" y="60" width="1" height="52" fill="#ffba0f"/><rect x="542" y="60" width="1" height="52" fill="#ffbd10"/><rect x="543" y="60" width="19" height="52" fill="#ff9e0d"/><rect x="562" y="60" width="1" height="52" fill="#ffa60e"/><rect x="563" y="60" width="12" height="52" fill="#ff9e0d"/><rect x="575" y="60" width="1" height="52" fill="#ff920d"/><rect x="576" y="60" width="1" height="52" fill="#ff6d0e"/><rect x="577" y="60" width="1" height="52" fill="#ff860e"/><rect x="578" y="60" width="1" height="52" fill="#ff2410"/><rect x="579" y="60" width="1" height="52" fill="#ff490f"/><rect x="580" y="60" width="1" height="52" fill="#ff9e0d"/><rect x="581" y="60" width="1" height="52" fill="#ff790e"/><rect x="582" y="60" width="1" height="52" fill="#ff2410"/><rect x="583" y="60" width="1" height="52" fill="#ff550f"/><rect x="584" y="60" width="1" height="52" fill="#ff9e0d"/><rect x="585" y="60" width="1" height="52" fill="#ff790e"/><rect x="586" y="60" width="1" height="52" fill="#ff2410"/><rect x="587" y="60" width="1" height="52" fill="#ff550f"/><rect x="588" y="60" width="1" height="52" fill="#ff9e0d"/><rect x="589" y="60" width="1" height="52" fill="#ff6d0e"/><rect x="590" y="60" width="1" height="52" fill="#ff2410"/><rect x="591" y="60" width="1" height="52" fill="#ff610e"/><rect x="592" y="60" width="1" height="52" fill="#ff9e0d"/><rect x="593" y="60" width="1" height="52" fill="#ff610e"/><rect x="594" y="60" width="1" height="52" fill="#ff2410"/><rect x="595" y="60" width="1" height="52" fill="#ff610e"/><rect x="596" y="60" width="1" height="52" fill="#ff9e0d"/><rect x="597" y="60" width="1" height="52" fill="#ff610e"/><rect x="598" y="60" width="1" height="52" fill="#ff2410"/><rect x="599" y="60" width="1" height="52" fill="#ff6d0e"/><rect x="600" y="60" width="1" height="52" fill="#ff9e0d"/><rect x="601" y="60" width="1" height="52" fill="#ff550f"/><rect x="602" y="60" width="1" height="52" fill="#ff2410"/><rect x="603" y="60" width="1" height="52" fill="#ff790e"/><rect x="604" y="60" width="1" height="52" fill="#ff9e0d"/><rect x="605" y="60" width="1" height="52" fill="#ff490f"/><rect x="606" y="60" width="1" height="52" fill="#ff2410"/><rect x="607" y="60" width="1" height="52" fill="#ff790e"/><rect x="608" y="60" width="1" height="52" fill="#ff9e0d"/><rect x="609" y="60" width="1" height="52" fill="#ff490f"/><rect x="610" y="60" width="1" height="52" fill="#ff2410"/><rect x="611" y="60" width="1" height="52" fill="#ff860e"/><rect x="612" y="60" width="1" height="52" fill="#ff9e0d"/><rect x="613" y="60" width="1" height="52" fill="#ff3c0f"/><rect x="614" y="60" width="1" height="52" fill="#ff2410"/><rect x="615" y="60" width="1" height="52" fill="#ff920d"/><rect x="616" y="60" width="1" height="52" fill="#ff9e0d"/><rect x="617" y="60" width="1" height="52" fill="#ff3c0f"/><rect x="618" y="60" width="1" height="52" fill="#ff2410"/><rect x="619" y="60" width="1" height="52" fill="#ff920d"/><rect x="620" y="60" width="1" height="52" fill="#ff9e0d"/><rect x="621" y="60" width="1" height="52" fill="#ff3010"/><rect x="622" y="60" width="1" height="52" fill="#ff2410"/><rect x="623" y="60" width="2" height="52" fill="#ff9e0d"/><rect x="625" y="60" width="2" height="52" fill="#ff2410"/><rect x="627" y="60" width="2" height="52" fill="#ff9e0d"/><rect x="629" y="60" width="1" height="52" fill="#ff2410"/><rect x="630" y="60" width="1" height="52" fill="#ff3010"/><rect x="631" y="60" width="1" height="52" fill="#ff9e0d"/><rect x="632" y="60" width="1" height="52" fill="#ff920d"/><rect x="633" y="60" width="1" height="52" fill="#ff2410"/><rect x="634" y="60" width="1" height="52" fill="#ff3c0f"/><rect x="635" y="60" width="1" height="52" fill="#ff9e0d"/><rect x="636" y="60" width="1" height="52" fill="#ff860e"/><rect x="637" y="60" width="1" height="52" fill="#ff2410"/><rect x="638" y="60" width="1" height="52" fill="#ff3c0f"/><rect x="639" y="60" width="1" height="52" fill="#ff9e0d"/><rect x="640" y="60" width="1" height="52" fill="#ff860e"/><rect x="641" y="60" width="1" height="52" fill="#ff2410"/><rect x="642" y="60" width="1" height="52" fill="#ff490f"/><rect x="643" y="60" width="1" height="52" fill="#ff9e0d"/><rect x="644" y="60" width="1" height="52" fill="#ff790e"/><rect x="645" y="60" width="1" height="52" fill="#ff2410"/><rect x="646" y="60" width="1" height="52" fill="#ff550f"/><rect x="647" y="60" width="1" height="52" fill="#ffaf0e"/><rect x="648" y="60" width="1" height="52" fill="#fff414"/></g><g clip-path="url(#c2)" shape-rendering="crispEdges"><rect x="82" y="325" width="1" height="53" fill="#ff9e0d"/><rect x="83" y="325" width="1" height="53" fill="#ffc910"/><rect x="84" y="325" width="1" height="53" fill="#fff414"/><rect x="85" y="325" width="1" height="53" fill="#ffc010"/><rect x="86" y="325" width="1" height="53" fill="#ff9e0d"/><rect x="87" y="325" width="1" height="53" fill="#ffd211"/><rect x="88" y="325" width="1" height="53" fill="#fff414"/><rect x="89" y="325" width="1" height="53" fill="#ffc010"/><rect x="90" y="325" width="1" height="53" fill="#ff9e0d"/><rect x="91" y="325" width="1" height="53" fill="#ffda12"/><rect x="92" y="325" width="1" height="53" fill="#fff414"/><rect x="93" y="325" width="1" height="53" fill="#ffb80f"/><rect x="94" y="325" width="1" height="53" fill="#ff9e0d"/><rect x="95" y="325" width="1" height="53" fill="#ffda12"/><rect x="96" y="325" width="1" height="53" fill="#fff414"/><rect x="97" y="325" width="1" height="53" fill="#ffaf0e"/><rect x="98" y="325" width="1" height="53" fill="#ff9e0d"/><rect x="99" y="325" width="1" height="53" fill="#ffe313"/><rect x="100" y="325" width="1" height="53" fill="#fff414"/><rect x="101" y="325" width="1" height="53" fill="#ffaf0e"/><rect x="102" y="325" width="1" height="53" fill="#ff9e0d"/><rect x="103" y="325" width="1" height="53" fill="#a4ff12"/><rect x="104" y="325" width="1" height="53" fill="#c8fb13"/><rect x="105" y="325" width="1" height="53" fill="#ffc010"/><rect x="106" y="325" width="4" height="53" fill="#fff414"/><rect x="110" y="325" width="1" height="53" fill="#e4f713"/><rect x="111" y="325" width="1" height="53" fill="#a4ff12"/><rect x="112" y="325" width="1" height="53" fill="#f6f514"/><rect x="113" y="325" width="2" height="53" fill="#ff9e0d"/><rect x="115" y="325" width="1" height="53" fill="#fff414"/><rect x="116" y="325" width="1" height="53" fill="#ffeb13"/><rect x="117" y="325" width="1" height="53" fill="#ff9e0d"/><rect x="118" y="325" width="1" height="53" fill="#ffa70e"/><rect x="119" y="325" width="1" height="53" fill="#dcfa14"/><rect x="120" y="325" width="1" height="53" fill="#eeee13"/><rect x="121" y="325" width="1" height="53" fill="#ff9e0d"/><rect x="122" y="325" width="1" height="53" fill="#f6b00e"/><rect x="123" y="325" width="1" height="53" fill="#a4ff12"/><rect x="124" y="325" width="1" height="53" fill="#e4e612"/><rect x="125" y="325" width="1" height="53" fill="#ff9e0d"/><rect x="126" y="325" width="1" height="53" fill="#ffaf0e"/><rect x="127" y="325" width="3" height="53" fill="#fff414"/><rect x="130" y="325" width="1" height="53" fill="#e0f914"/><rect x="131" y="325" width="1" height="53" fill="#f4f614"/><rect x="132" y="325" width="4" height="53" fill="#fff414"/><rect x="136" y="325" width="1" height="53" fill="#ffeb13"/><rect x="137" y="325" width="1" height="53" fill="#ff9e0d"/><rect x="138" y="325" width="1" height="53" fill="#ffc010"/><rect x="139" y="325" width="3" height="53" fill="#dcfa14"/><rect x="142" y="325" width="1" height="53" fill="#b5fe13"/><rect x="143" y="325" width="1" height="53" fill="#dbf813"/><rect x="144" y="325" width="1" height="53" fill="#ffc910"/><rect x="145" y="325" width="1" height="53" fill="#ff9e0d"/><rect x="146" y="325" width="1" height="53" fill="#b6ec11"/><rect x="147" y="325" width="1" height="53" fill="#a4ff12"/><rect x="148" y="325" width="1" height="53" fill="#dbc50f"/><rect x="149" y="325" width="1" height="53" fill="#ff9e0d"/><rect x="150" y="325" width="1" height="53" fill="#ffd211"/><rect x="151" y="325" width="1" height="53" fill="#fff414"/><rect x="152" y="325" width="1" height="53" fill="#ffc010"/><rect x="153" y="325" width="1" height="53" fill="#ff9e0d"/><rect x="154" y="325" width="1" height="53" fill="#ffda12"/><rect x="155" y="325" width="1" height="53" fill="#fff414"/><rect x="156" y="325" width="1" height="53" fill="#ffb80f"/><rect x="157" y="325" width="1" height="53" fill="#ff9e0d"/><rect x="158" y="325" width="1" height="53" fill="#a4ff12"/><rect x="159" y="325" width="1" height="53" fill="#b6fd12"/><rect x="160" y="325" width="2" height="53" fill="#fff414"/><rect x="162" y="325" width="1" height="53" fill="#dbf813"/><rect x="163" y="325" width="1" height="53" fill="#a4ff12"/><rect x="164" y="325" width="1" height="53" fill="#dbc50f"/><rect x="165" y="325" width="1" height="53" fill="#ff9e0d"/><rect x="166" y="325" width="1" height="53" fill="#ffe313"/><rect x="167" y="325" width="1" height="53" fill="#fff414"/><rect x="168" y="325" width="1" height="53" fill="#ffa70e"/><rect x="169" y="325" width="1" height="53" fill="#ff9e0d"/><rect x="170" y="325" width="1" height="53" fill="#ffeb13"/><rect x="171" y="325" width="1" height="53" fill="#fff414"/><rect x="172" y="325" width="1" height="53" fill="#ffa70e"/><rect x="173" y="325" width="1" height="53" fill="#ff9e0d"/><rect x="174" y="325" width="2" height="53" fill="#fff414"/><rect x="176" y="325" width="2" height="53" fill="#ff9e0d"/><rect x="178" y="325" width="1" height="53" fill="#fff414"/><rect x="179" y="325" width="1" height="53" fill="#ffeb13"/><rect x="180" y="325" width="1" height="53" fill="#ff9e0d"/><rect x="181" y="325" width="1" height="53" fill="#e4bb0e"/><rect x="182" y="325" width="1" height="53" fill="#a4ff12"/><rect x="183" y="325" width="1" height="53" fill="#adf512"/><rect x="184" y="325" width="1" height="53" fill="#ff9e0d"/><rect x="185" y="325" width="1" height="53" fill="#ffaf0e"/><rect x="186" y="325" width="1" height="53" fill="#fff414"/><rect x="187" y="325" width="1" height="53" fill="#ffe313"/><rect x="188" y="325" width="1" height="53" fill="#ff9e0d"/><rect x="189" y="325" width="1" height="53" fill="#ffaf0e"/><rect x="190" y="325" width="1" height="53" fill="#fff414"/><rect x="191" y="325" width="1" height="53" fill="#ffda12"/><rect x="192" y="325" width="1" height="53" fill="#ff9e0d"/><rect x="193" y="325" width="1" height="53" fill="#ffeb13"/><rect x="194" y="325" width="3" height="53" fill="#fff414"/><rect x="197" y="325" width="1" height="53" fill="#eaf814"/><rect x="198" y="325" width="2" height="53" fill="#dcfa14"/><rect x="200" y="325" width="1" height="53" fill="#f4f614"/><rect x="201" y="325" width="2" height="53" fill="#fff414"/><rect x="203" y="325" width="1" height="53" fill="#ffeb13"/><rect x="204" y="325" width="1" height="53" fill="#ff9e0d"/><rect x="205" y="325" width="1" height="53" fill="#ffd211"/><rect x="206" y="325" width="1" height="53" fill="#fff414"/><rect x="207" y="325" width="1" height="53" fill="#ffc910"/><rect x="208" y="325" width="1" height="53" fill="#ff9e0d"/><rect x="209" y="325" width="1" height="53" fill="#ffda12"/><rect x="210" y="325" width="1" height="53" fill="#fff414"/><rect x="211" y="325" width="1" height="53" fill="#ffc010"/><rect x="212" y="325" width="1" height="53" fill="#ff9e0d"/><rect x="213" y="325" width="1" height="53" fill="#ffe313"/><rect x="214" y="325" width="1" height="53" fill="#fff414"/><rect x="215" y="325" width="1" height="53" fill="#ffc010"/><rect x="216" y="325" width="1" height="53" fill="#e4bb0e"/><rect x="217" y="325" width="1" height="53" fill="#a4ff12"/><rect x="218" y="325" width="1" height="53" fill="#adfe12"/><rect x="219" y="325" width="1" height="53" fill="#ffb80f"/><rect x="220" y="325" width="1" height="53" fill="#f1c310"/><rect x="221" y="325" width="1" height="53" fill="#dcfa14"/><rect x="222" y="325" width="1" height="53" fill="#f1f614"/><rect x="223" y="325" width="1" height="53" fill="#ffaf0e"/><rect x="224" y="325" width="1" height="53" fill="#ff9e0d"/><rect x="225" y="325" width="1" height="53" fill="#ffeb13"/><rect x="226" y="325" width="1" height="53" fill="#fff414"/><rect x="227" y="325" width="1" height="53" fill="#ffaf0e"/><rect x="228" y="325" width="1" height="53" fill="#ff9e0d"/><rect x="229" y="325" width="2" height="53" fill="#fff414"/><rect x="231" y="325" width="2" height="53" fill="#ffa70e"/><rect x="233" y="325" width="2" height="53" fill="#fff414"/><rect x="235" y="325" width="1" height="53" fill="#ffa70e"/><rect x="236" y="325" width="1" height="53" fill="#e0f113"/><rect x="237" y="325" width="1" height="53" fill="#dcfa14"/><rect x="238" y="325" width="1" height="53" fill="#eaf814"/><rect x="239" y="325" width="1" height="53" fill="#ff9e0d"/><rect x="240" y="325" width="1" height="53" fill="#ffaf0e"/><rect x="241" y="325" width="1" height="53" fill="#fff414"/><rect x="242" y="325" width="1" height="53" fill="#ffeb13"/><rect x="243" y="325" width="1" height="53" fill="#ff9e0d"/><rect x="244" y="325" width="1" height="53" fill="#ffb80f"/><rect x="245" y="325" width="1" height="53" fill="#fff414"/><rect x="246" y="325" width="1" height="53" fill="#ffeb13"/><rect x="247" y="325" width="1" height="53" fill="#ff9e0d"/><rect x="248" y="325" width="1" height="53" fill="#ffb80f"/><rect x="249" y="325" width="1" height="53" fill="#fff414"/><rect x="250" y="325" width="1" height="53" fill="#ffe313"/><rect x="251" y="325" width="1" height="53" fill="#ff9e0d"/><rect x="252" y="325" width="1" height="53" fill="#ffc010"/><rect x="253" y="325" width="1" height="53" fill="#fff414"/><rect x="254" y="325" width="1" height="53" fill="#ffda12"/><rect x="255" y="325" width="1" height="53" fill="#ff9e0d"/><rect x="256" y="325" width="1" height="53" fill="#ffc910"/><rect x="257" y="325" width="5" height="53" fill="#fff414"/><rect x="262" y="325" width="1" height="53" fill="#ffd211"/><rect x="263" y="325" width="1" height="53" fill="#ff9e0d"/><rect x="264" y="325" width="1" height="53" fill="#ffd211"/><rect x="265" y="325" width="1" height="53" fill="#fff414"/><rect x="266" y="325" width="1" height="53" fill="#ffd211"/><rect x="267" y="325" width="1" height="53" fill="#ff9e0d"/><rect x="268" y="325" width="1" height="53" fill="#ffd211"/><rect x="269" y="325" width="1" height="53" fill="#fff414"/><rect x="270" y="325" width="1" height="53" fill="#ffc910"/><rect x="271" y="325" width="1" height="53" fill="#ff9e0d"/><rect x="272" y="325" width="1" height="53" fill="#ffda12"/><rect x="273" y="325" width="1" height="53" fill="#fff414"/><rect x="274" y="325" width="1" height="53" fill="#ffc010"/><rect x="275" y="325" width="1" height="53" fill="#ff9e0d"/><rect x="276" y="325" width="1" height="53" fill="#ffe313"/><rect x="277" y="325" width="1" height="53" fill="#fff414"/><rect x="278" y="325" width="1" height="53" fill="#ffc010"/><rect x="279" y="325" width="1" height="53" fill="#ff9e0d"/><rect x="280" y="325" width="1" height="53" fill="#ffe313"/><rect x="281" y="325" width="1" height="53" fill="#fff414"/><rect x="282" y="325" width="1" height="53" fill="#ffb80f"/><rect x="283" y="325" width="1" height="53" fill="#ff9e0d"/><rect x="284" y="325" width="1" height="53" fill="#ffeb13"/><rect x="285" y="325" width="1" height="53" fill="#fff414"/><rect x="286" y="325" width="1" height="53" fill="#ffaf0e"/><rect x="287" y="325" width="1" height="53" fill="#ff9e0d"/><rect x="288" y="325" width="1" height="53" fill="#ffeb13"/><rect x="289" y="325" width="1" height="53" fill="#fff414"/><rect x="290" y="325" width="1" height="53" fill="#ffaf0e"/><rect x="291" y="325" width="1" height="53" fill="#ff9e0d"/><rect x="292" y="325" width="2" height="53" fill="#fff414"/><rect x="294" y="325" width="2" height="53" fill="#ffa70e"/><rect x="296" y="325" width="2" height="53" fill="#fff414"/><rect x="298" y="325" width="2" height="53" fill="#ffa70e"/><rect x="300" y="325" width="134" height="53" fill="#fff414"/><rect x="434" y="325" width="1" height="53" fill="#ffa70e"/><rect x="435" y="325" width="6" height="53" fill="#ff9e0d"/><rect x="441" y="325" width="1" height="53" fill="#ffb60f"/><rect x="442" y="325" width="1" height="53" fill="#ffb90f"/><rect x="443" y="325" width="58" height="53" fill="#ff9e0d"/><rect x="501" y="325" width="1" height="53" fill="#ffad0e"/><rect x="502" y="325" width="1" height="53" fill="#ffa30d"/><rect x="503" y="325" width="16" height="53" fill="#ff9e0d"/><rect x="519" y="325" width="1" height="53" fill="#ffc910"/><rect x="520" y="325" width="1" height="53" fill="#ffcd11"/><rect x="521" y="325" width="5" height="53" fill="#ff9e0d"/><rect x="526" y="325" width="1" height="53" fill="#ffa00d"/><rect x="527" y="325" width="1" height="53" fill="#ffaf0e"/><rect x="528" y="325" width="1" height="53" fill="#ffbf10"/><rect x="529" y="325" width="1" height="53" fill="#ffd612"/><rect x="530" y="325" width="1" height="53" fill="#ffc510"/><rect x="531" y="325" width="1" height="53" fill="#ff9e0d"/><rect x="532" y="325" width="1" height="53" fill="#ffaa0e"/><rect x="533" y="325" width="1" height="53" fill="#ffc110"/><rect x="534" y="325" width="7" height="53" fill="#ff9e0d"/><rect x="541" y="325" width="1" height="53" fill="#ffba0f"/><rect x="542" y="325" width="1" height="53" fill="#ffbd10"/><rect x="543" y="325" width="19" height="53" fill="#ff9e0d"/><rect x="562" y="325" width="1" height="53" fill="#ffa60e"/><rect x="563" y="325" width="12" height="53" fill="#ff9e0d"/><rect x="575" y="325" width="1" height="53" fill="#ff920d"/><rect x="576" y="325" width="1" height="53" fill="#ff6d0e"/><rect x="577" y="325" width="1" height="53" fill="#ff860e"/><rect x="578" y="325" width="1" height="53" fill="#ff2410"/><rect x="579" y="325" width="1" height="53" fill="#ff490f"/><rect x="580" y="325" width="1" height="53" fill="#ff9e0d"/><rect x="581" y="325" width="1" height="53" fill="#ff790e"/><rect x="582" y="325" width="1" height="53" fill="#ff2410"/><rect x="583" y="325" width="1" height="53" fill="#ff550f"/><rect x="584" y="325" width="1" height="53" fill="#ff9e0d"/><rect x="585" y="325" width="1" height="53" fill="#ff790e"/><rect x="586" y="325" width="1" height="53" fill="#ff2410"/><rect x="587" y="325" width="1" height="53" fill="#ff550f"/><rect x="588" y="325" width="1" height="53" fill="#ff9e0d"/><rect x="589" y="325" width="1" height="53" fill="#ff6d0e"/><rect x="590" y="325" width="1" height="53" fill="#ff2410"/><rect x="591" y="325" width="1" height="53" fill="#ff610e"/><rect x="592" y="325" width="1" height="53" fill="#ff9e0d"/><rect x="593" y="325" width="1" height="53" fill="#ff610e"/><rect x="594" y="325" width="1" height="53" fill="#ff2410"/><rect x="595" y="325" width="1" height="53" fill="#ff610e"/><rect x="596" y="325" width="1" height="53" fill="#ff9e0d"/><rect x="597" y="325" width="1" height="53" fill="#ff610e"/><rect x="598" y="325" width="1" height="53" fill="#ff2410"/><rect x="599" y="325" width="1" height="53" fill="#ff6d0e"/><rect x="600" y="325" width="1" height="53" fill="#ff9e0d"/><rect x="601" y="325" width="1" height="53" fill="#ff550f"/><rect x="602" y="325" width="1" height="53" fill="#ff2410"/><rect x="603" y="325" width="1" height="53" fill="#ff790e"/><rect x="604" y="325" width="1" height="53" fill="#ff9e0d"/><rect x="605" y="325" width="1" height="53" fill="#ff490f"/><rect x="606" y="325" width="1" height="53" fill="#ff2410"/><rect x="607" y="325" width="1" height="53" fill="#ff790e"/><rect x="608" y="325" width="1" height="53" fill="#ff9e0d"/><rect x="609" y="325" width="1" height="53" fill="#ff490f"/><rect x="610" y="325" width="1" height="53" fill="#ff2410"/><rect x="611" y="325" width="1" height="53" fill="#ff860e"/><rect x="612" y="325" width="1" height="53" fill="#ff9e0d"/><rect x="613" y="325" width="1" height="53" fill="#ff3c0f"/><rect x="614" y="325" width="1" height="53" fill="#ff2410"/><rect x="615" y="325" width="1" height="53" fill="#ff920d"/><rect x="616" y="325" width="1" height="53" fill="#ff9e0d"/><rect x="617" y="325" width="1" height="53" fill="#ff3c0f"/><rect x="618" y="325" width="1" height="53" fill="#ff2410"/><rect x="619" y="325" width="1" height="53" fill="#ff920d"/><rect x="620" y="325" width="1" height="53" fill="#ff9e0d"/><rect x="621" y="325" width="1" height="53" fill="#ff3010"/><rect x="622" y="325" width="1" height="53" fill="#ff2410"/><rect x="623" y="325" width="2" height="53" fill="#ff9e0d"/><rect x="625" y="325" width="2" height="53" fill="#ff2410"/><rect x="627" y="325" width="2" height="53" fill="#ff9e0d"/><rect x="629" y="325" width="1" height="53" fill="#ff2410"/><rect x="630" y="325" width="1" height="53" fill="#ff3010"/><rect x="631" y="325" width="1" height="53" fill="#ff9e0d"/><rect x="632" y="325" width="1" height="53" fill="#ff920d"/><rect x="633" y="325" width="1" height="53" fill="#ff2410"/><rect x="634" y="325" width="1" height="53" fill="#ff3c0f"/><rect x="635" y="325" width="1" height="53" fill="#ff9e0d"/><rect x="636" y="325" width="1" height="53" fill="#ff860e"/><rect x="637" y="325" width="1" height="53" fill="#ff2410"/><rect x="638" y="325" width="1" height="53" fill="#ff3c0f"/><rect x="639" y="325" width="1" height="53" fill="#ff9e0d"/><rect x="640" y="325" width="1" height="53" fill="#ff860e"/><rect x="641" y="325" width="1" height="53" fill="#ff2410"/><rect x="642" y="325" width="1" height="53" fill="#ff490f"/><rect x="643" y="325" width="1" height="53" fill="#ff9e0d"/><rect x="644" y="325" width="1" height="53" fill="#ff790e"/><rect x="645" y="325" width="1" height="53" fill="#ff2410"/><rect x="646" y="325" width="1" height="53" fill="#ff550f"/><rect x="647" y="325" width="1" height="53" fill="#ffaf0e"/><rect x="648" y="325" width="1" height="53" fill="#fff414"/></g><g clip-path="url(#c1)" shape-rendering="crispEdges"><rect x="105.0" y="60" width="1" height="320" fill="#000" fill-opacity="0.045"/><rect x="128.0" y="60" width="1" height="320" fill="#000" fill-opacity="0.045"/><rect x="152.0" y="60" width="1" height="320" fill="#000" fill-opacity="0.045"/><rect x="176.0" y="60" width="1" height="320" fill="#000" fill-opacity="0.045"/><rect x="199.0" y="60" width="1" height="320" fill="#000" fill-opacity="0.045"/><rect x="223.0" y="60" width="1" height="320" fill="#000" fill-opacity="0.045"/><rect x="247.0" y="60" width="1" height="320" fill="#000" fill-opacity="0.045"/><rect x="270.0" y="60" width="1" height="320" fill="#000" fill-opacity="0.045"/><rect x="294.0" y="60" width="1" height="320" fill="#000" fill-opacity="0.045"/><rect x="317.0" y="60" width="1" height="320" fill="#000" fill-opacity="0.045"/><rect x="341.0" y="60" width="1" height="320" fill="#000" fill-opacity="0.045"/><rect x="365.0" y="60" width="1" height="320" fill="#000" fill-opacity="0.045"/><rect x="388.0" y="60" width="1" height="320" fill="#000" fill-opacity="0.045"/><rect x="412.0" y="60" width="1" height="320" fill="#000" fill-opacity="0.045"/><rect x="436.0" y="60" width="1" height="320" fill="#000" fill-opacity="0.045"/><rect x="459.0" y="60" width="1" height="320" fill="#000" fill-opacity="0.045"/><rect x="483.0" y="60" width="1" height="320" fill="#000" fill-opacity="0.045"/><rect x="506.0" y="60" width="1" height="320" fill="#000" fill-opacity="0.045"/><rect x="530.0" y="60" width="1" height="320" fill="#000" fill-opacity="0.045"/><rect x="554.0" y="60" width="1" height="320" fill="#000" fill-opacity="0.045"/><rect x="577.0" y="60" width="1" height="320" fill="#000" fill-opacity="0.045"/><rect x="601.0" y="60" width="1" height="320" fill="#000" fill-opacity="0.045"/><rect x="625.0" y="60" width="1" height="320" fill="#000" fill-opacity="0.045"/></g><g clip-path="url(#c2)" shape-rendering="crispEdges"><rect x="105.0" y="60" width="1" height="320" fill="#000" fill-opacity="0.045"/><rect x="128.0" y="60" width="1" height="320" fill="#000" fill-opacity="0.045"/><rect x="152.0" y="60" width="1" height="320" fill="#000" fill-opacity="0.045"/><rect x="176.0" y="60" width="1" height="320" fill="#000" fill-opacity="0.045"/><rect x="199.0" y="60" width="1" height="320" fill="#000" fill-opacity="0.045"/><rect x="223.0" y="60" width="1" height="320" fill="#000" fill-opacity="0.045"/><rect x="247.0" y="60" width="1" height="320" fill="#000" fill-opacity="0.045"/><rect x="270.0" y="60" width="1" height="320" fill="#000" fill-opacity="0.045"/><rect x="294.0" y="60" width="1" height="320" fill="#000" fill-opacity="0.045"/><rect x="317.0" y="60" width="1" height="320" fill="#000" fill-opacity="0.045"/><rect x="341.0" y="60" width="1" height="320" fill="#000" fill-opacity="0.045"/><rect x="365.0" y="60" width="1" height="320" fill="#000" fill-opacity="0.045"/><rect x="388.0" y="60" width="1" height="320" fill="#000" fill-opacity="0.045"/><rect x="412.0" y="60" width="1" height="320" fill="#000" fill-opacity="0.045"/><rect x="436.0" y="60" width="1" height="320" fill="#000" fill-opacity="0.045"/><rect x="459.0" y="60" width="1" height="320" fill="#000" fill-opacity="0.045"/><rect x="483.0" y="60" width="1" height="320" fill="#000" fill-opacity="0.045"/><rect x="506.0" y="60" width="1" height="320" fill="#000" fill-opacity="0.045"/><rect x="530.0" y="60" width="1" height="320" fill="#000" fill-opacity="0.045"/><rect x="554.0" y="60" width="1" height="320" fill="#000" fill-opacity="0.045"/><rect x="577.0" y="60" width="1" height="320" fill="#000" fill-opacity="0.045"/><rect x="601.0" y="60" width="1" height="320" fill="#000" fill-opacity="0.045"/><rect x="625.0" y="60" width="1" height="320" fill="#000" fill-opacity="0.045"/></g><g fill="none" stroke="#181000" stroke-width="0.95" stroke-linejoin="round" stroke-opacity="0.92"><polyline points="82.0,73.7 82.0,73.7 83.0,73.9 84.0,73.8 85.0,73.9 86.0,73.8 87.0,73.6 88.0,73.8 89.0,73.9 90.0,73.6 91.0,73.8 92.0,74.0 93.0,73.8 94.0,73.7 95.0,73.8 96.0,73.7 97.0,73.9 98.0,73.8 99.0,73.7 100.0,73.9 101.0,73.9 102.0,73.6 103.0,73.8 104.0,73.9 105.0,73.8 106.0,73.8 107.0,73.8 108.0,73.7 109.0,73.8 110.0,73.7 111.0,73.6 112.0,74.0 113.0,73.9 114.0,73.6 115.0,73.8 116.0,73.8 117.0,73.6 118.0,73.8 119.0,73.7 120.0,73.8 121.0,73.9 122.0,73.6 123.0,73.6 124.0,73.9 125.0,73.7 126.0,73.6 127.0,73.8 128.0,73.8 129.0,73.6 130.0,73.7 131.0,73.6 132.0,73.7 133.0,73.9 134.0,73.6 135.0,73.6 136.0,73.9 137.0,73.6 138.0,73.5 139.0,73.8 140.0,73.7 141.0,73.7 142.0,73.7 143.0,73.5 144.0,73.7 145.0,73.8 146.0,73.5 147.0,73.7 148.0,73.9 149.0,73.6 150.0,73.5 151.0,73.7 152.0,73.6 153.0,73.7 154.0,73.7 155.0,73.5 156.0,73.8 157.0,73.7 158.0,73.4 159.0,73.6 160.0,73.8 161.0,73.6 162.0,73.6 163.0,73.7 164.0,73.6 165.0,73.7 166.0,73.5 167.0,73.5 168.0,73.8 169.0,73.7 170.0,73.4 171.0,73.6 172.0,73.7 173.0,73.5 174.0,73.6 175.0,73.6 176.0,73.6 177.0,73.9 178.0,73.3 179.0,73.1 180.0,74.0 181.0,73.6 182.0,73.2 183.0,73.9 184.0,73.7 185.0,73.3 186.0,73.5 187.0,73.3 188.0,73.6 189.0,74.0 190.0,73.3 191.0,73.3 192.0,73.9 193.0,73.3 194.0,73.1 195.0,73.8 196.0,73.7 197.0,73.6 198.0,73.6 199.0,73.2 200.0,73.5 201.0,73.7 202.0,73.1 203.0,73.5 204.0,74.0 205.0,73.3 206.0,73.2 207.0,73.5 208.0,73.3 209.0,73.5 210.0,73.6 211.0,73.2 212.0,73.7 213.0,73.6 214.0,72.8 215.0,73.4 216.0,73.8 217.0,73.3 218.0,73.4 219.0,73.5 220.0,73.2 221.0,73.4 222.0,73.2 223.0,73.1 224.0,73.8 225.0,73.6 226.0,72.8 227.0,73.4 228.0,73.5 229.0,73.0 230.0,73.3 231.0,73.4 232.0,73.2 233.0,73.4 234.0,72.8 235.0,72.6 236.0,73.4 237.0,73.0 238.0,72.5 239.0,73.1 240.0,72.9 241.0,72.4 242.0,72.6 243.0,72.4 244.0,72.6 245.0,72.9 246.0,72.2 247.0,72.2 248.0,72.7 249.0,72.0 250.0,71.8 251.0,72.5 252.0,72.3 253.0,72.1 254.0,72.2 255.0,71.8 256.0,72.1 257.0,72.3 258.0,71.6 259.0,72.0 260.0,72.5 261.0,71.7 262.0,71.5 263.0,72.0 264.0,71.8 265.0,71.9 266.0,72.0 267.0,71.6 268.0,72.0 269.0,71.9 270.0,71.1 271.0,71.7 272.0,72.2 273.0,71.5 274.0,71.6 275.0,71.8 276.0,71.4 277.0,71.6 278.0,71.4 279.0,71.3 280.0,72.0 281.0,71.7 282.0,71.0 283.0,71.5 284.0,71.6 285.0,71.1 286.0,71.3 287.0,71.4 288.0,71.2 289.0,71.2 290.0,70.7 291.0,70.5 292.0,71.2 293.0,70.8 294.0,70.2 295.0,70.8 296.0,70.6 297.0,70.3 298.0,70.8 299.0,71.1 300.0,71.5 301.0,71.9 302.0,71.3 303.0,71.4 304.0,72.1 305.0,71.5 306.0,71.4 307.0,72.2 308.0,72.2 309.0,72.0 310.0,72.1 311.0,71.9 312.0,72.2 313.0,72.5 314.0,72.0 315.0,72.4 316.0,73.0 317.0,72.2 318.0,72.1 319.0,72.7 320.0,72.6 321.0,72.6 322.0,72.8 323.0,72.5 324.0,72.9 325.0,72.8 326.0,72.1 327.0,72.7 328.0,73.3 329.0,72.6 330.0,72.7 331.0,73.0 332.0,72.7 333.0,72.8 334.0,72.8 335.0,72.7 336.0,73.4 337.0,73.2 338.0,72.5 339.0,73.1 340.0,73.3 341.0,72.8 342.0,73.2 343.0,73.5 344.0,73.3 345.0,73.4 346.0,73.1 347.0,73.0 348.0,73.8 349.0,73.5 350.0,73.1 351.0,73.8 352.0,73.7 353.0,73.2 354.0,73.5 355.0,73.6 356.0,73.6 357.0,73.7 358.0,73.1 359.0,73.0 360.0,73.5 361.0,72.8 362.0,72.5 363.0,73.2 364.0,72.9 365.0,72.5 366.0,72.6 367.0,72.3 368.0,72.5 369.0,72.7 370.0,72.1 371.0,72.4 372.0,72.9 373.0,72.1 374.0,71.9 375.0,72.5 376.0,72.2 377.0,72.2 378.0,72.3 379.0,72.0 380.0,72.2 381.0,72.1 382.0,71.4 383.0,71.9 384.0,72.3 385.0,71.5 386.0,71.6 387.0,72.1 388.0,71.8 389.0,71.9 390.0,72.0 391.0,72.0 392.0,72.6 393.0,72.5 394.0,71.8 395.0,72.4 396.0,72.7 397.0,72.1 398.0,72.4 399.0,72.7 400.0,72.4 401.0,72.5 402.0,72.2 403.0,72.1 404.0,72.8 405.0,72.5 406.0,72.0 407.0,72.7 408.0,72.6 409.0,72.0 410.0,72.3 411.0,72.5 412.0,72.5 413.0,72.7 414.0,72.3 415.0,73.3 416.0,75.1 417.0,74.8 418.0,75.5 419.0,77.9 420.0,79.3 421.0,80.3 422.0,82.0 423.0,82.2 423.3,82.4 424.0,79.4 424.5,77.3 425.0,79.3 426.0,82.5 427.0,83.7 428.0,84.3 429.0,83.5 430.0,83.4 431.0,83.9 432.0,83.6 433.0,83.4 434.0,80.9 434.5,79.3 435.0,80.7 435.5,82.3 436.0,81.0 437.0,78.1 438.0,76.1 439.0,75.3 440.0,77.1 441.0,77.5 442.0,78.4 442.5,79.0 443.0,78.8 444.0,77.5 445.0,77.4 446.0,77.4 447.0,77.1 448.0,77.4 449.0,77.0 450.0,76.1 451.0,76.5 452.0,76.6 453.0,75.7 454.0,75.8 455.0,76.0 456.0,75.4 457.0,75.2 458.0,74.9 459.0,74.6 460.0,75.1 461.0,74.8 462.0,74.2 463.0,74.8 464.0,74.7 465.0,73.9 466.0,74.2 467.0,74.6 468.0,74.7 469.0,75.1 470.0,74.9 471.0,74.8 472.0,75.4 473.0,74.9 474.0,74.7 475.0,75.6 476.0,75.5 477.0,75.0 478.0,75.2 479.0,75.2 480.0,75.2 481.0,75.4 482.0,74.9 483.0,75.0 484.0,75.4 485.0,74.5 486.0,74.2 487.0,75.2 488.0,75.1 489.0,75.1 490.0,75.6 491.0,75.5 492.0,75.7 493.0,76.0 494.0,75.7 495.0,76.5 496.0,77.3 497.0,76.8 498.0,77.1 499.0,77.9 500.0,77.7 501.0,77.8 502.0,78.1 503.0,78.1 504.0,78.2 505.0,77.9 506.0,77.0 507.0,77.3 508.0,77.4 509.0,76.5 510.0,76.7 511.0,76.9 512.0,76.2 513.0,75.9 514.0,75.6 515.0,75.2 516.0,75.6 517.0,75.1 518.0,74.4 519.0,74.7 520.0,74.4 521.0,73.4 522.0,73.5 523.0,73.7 524.0,73.5 525.0,73.6 526.0,73.3 527.0,73.1 528.0,73.6 529.0,73.1 530.0,72.9 531.0,73.8 532.0,73.6 533.0,73.0 534.0,73.3 535.0,73.3 536.0,73.2 537.0,73.5 538.0,73.1 539.0,73.3 540.0,73.8 541.0,73.0 542.0,72.8 543.0,73.6 544.0,73.4 545.0,73.1 546.0,73.5 547.0,73.3 548.0,73.3 549.0,73.3 550.0,72.8 551.0,73.2 552.0,73.7 553.0,72.8 554.0,72.8 555.0,73.3 556.0,72.7 557.0,72.6 558.0,72.9 559.0,72.7 560.0,73.0 561.0,72.9 562.0,72.3 563.0,72.9 564.0,73.3 565.0,72.7 566.0,73.1 567.0,73.6 568.0,73.2 569.0,73.2 570.0,73.3 571.0,73.4 572.0,74.1 573.0,74.1 574.0,73.8 575.0,74.7 576.0,74.7 577.0,74.0 578.0,74.5 579.0,74.9 580.0,74.7 581.0,74.4 582.0,73.8 583.0,73.4 584.0,74.2 585.0,74.3 586.0,74.6 587.0,75.5 588.0,75.3 589.0,74.6 590.0,75.0 591.0,75.0 592.0,74.9 593.0,75.2 594.0,74.9 595.0,75.0 596.0,75.4 597.0,74.6 598.0,74.4 599.0,75.2 600.0,75.0 601.0,74.6 602.0,75.0 603.0,74.8 604.0,74.7 605.0,74.7 606.0,74.2 607.0,74.5 608.0,74.9 609.0,74.0 610.0,73.9 611.0,74.3 612.0,73.7 613.0,73.6 614.0,73.9 615.0,73.8 616.0,73.9 617.0,73.7 618.0,73.0 619.0,73.5 620.0,73.7 621.0,73.0 622.0,73.4 623.0,73.9 624.0,73.3 625.0,73.2 626.0,73.3 627.0,73.2 628.0,73.7 629.0,73.5 630.0,73.1 631.0,73.7 632.0,73.6 633.0,72.8 634.0,73.3 635.0,73.7 636.0,73.4 637.0,73.5 638.0,73.3 639.0,73.2 640.0,73.6 641.0,73.2 642.0,73.0 643.0,73.8 644.0,73.6 645.0,72.9 646.0,73.3 647.0,73.4 648.0,73.2 649.0,73.4"/><polyline points="82.0,84.2 82.0,84.4 83.0,84.3 84.0,84.2 85.0,84.4 86.0,84.4 87.0,84.1 88.0,84.3 89.0,84.3 90.0,84.3 91.0,84.4 92.0,84.2 93.0,84.2 94.0,84.4 95.0,84.2 96.0,84.1 97.0,84.5 98.0,84.4 99.0,84.5 100.0,84.8 101.0,84.9 102.0,84.8 103.0,84.7 104.0,84.4 105.0,84.6 106.0,85.0 107.0,84.8 108.0,84.8 109.0,85.0 110.0,84.7 111.0,84.5 112.0,84.5 113.0,84.4 114.0,84.4 115.0,84.4 116.0,84.2 117.0,84.4 118.0,84.6 119.0,84.3 120.0,84.3 121.0,84.5 122.0,84.3 123.0,84.3 124.0,84.4 125.0,84.4 126.0,84.6 127.0,84.5 128.0,84.2 129.0,84.4 130.0,84.5 131.0,84.2 132.0,84.4 133.0,84.5 134.0,84.4 135.0,84.4 136.0,84.3 137.0,84.3 138.0,84.5 139.0,84.4 140.0,84.3 141.0,84.6 142.0,84.5 143.0,84.3 144.0,84.4 145.0,84.6 146.0,84.5 147.0,84.6 148.0,84.5 149.0,84.5 150.0,84.7 151.0,84.5 152.0,84.4 153.0,84.8 154.0,84.7 155.0,84.5 156.0,84.6 157.0,84.6 158.0,84.6 159.0,84.7 160.0,84.5 161.0,84.7 162.0,85.0 163.0,84.7 164.0,84.7 165.0,85.1 166.0,85.1 167.0,85.1 168.0,85.3 169.0,85.3 170.0,85.4 171.0,85.5 172.0,85.4 173.0,85.8 174.0,86.2 175.0,86.0 176.0,86.1 177.0,87.1 178.0,87.0 179.0,87.5 180.0,88.3 181.0,88.7 182.0,89.2 183.0,89.2 184.0,88.6 185.0,89.3 186.0,89.7 187.0,89.0 188.0,89.4 189.0,89.8 190.0,89.4 191.0,89.6 192.0,89.8 193.0,90.0 194.0,91.3 195.0,91.7 196.0,90.8 197.0,90.5 198.0,90.8 199.0,90.2 200.0,90.8 201.0,91.2 202.0,91.8 203.0,92.7 204.0,94.6 204.8,96.4 205.0,95.6 206.0,92.8 207.0,91.8 207.5,91.7 208.0,92.2 209.0,94.5 210.0,92.9 210.5,91.7 211.0,92.1 212.0,93.8 213.0,92.4 214.0,91.3 215.0,91.0 216.0,90.2 217.0,91.1 218.0,92.4 219.0,92.5 220.0,92.7 221.0,93.9 222.0,94.8 223.0,95.7 223.5,96.4 224.0,95.4 225.0,92.8 226.0,93.0 227.0,93.2 228.0,95.8 228.7,98.3 229.0,97.6 230.0,95.7 231.0,93.5 232.0,92.9 233.0,92.5 234.0,92.5 235.0,92.5 236.0,93.0 237.0,93.1 238.0,93.5 239.0,93.9 240.0,93.8 241.0,94.0 242.0,93.9 243.0,92.8 244.0,93.0 245.0,93.2 246.0,92.4 247.0,92.3 248.0,92.2 249.0,92.0 250.0,92.4 251.0,92.1 252.0,91.5 253.0,92.1 254.0,91.9 255.0,91.0 256.0,91.4 257.0,91.6 258.0,91.2 259.0,91.3 260.0,90.9 261.0,90.9 262.0,91.4 263.0,91.0 264.0,90.9 265.0,91.8 266.0,91.7 267.0,91.1 268.0,91.6 269.0,91.7 270.0,91.7 271.0,91.9 272.0,91.3 273.0,91.0 274.0,90.9 275.0,89.7 276.0,89.3 277.0,90.0 278.0,89.5 279.0,89.0 280.0,89.2 281.0,89.4 282.0,89.6 283.0,90.0 284.0,95.1 285.0,101.0 285.5,103.6 286.0,100.9 287.0,93.7 287.5,90.7 288.0,92.9 289.0,98.2 290.0,103.9 290.5,107.1 291.0,103.5 292.0,97.2 293.0,96.7 293.5,96.4 294.0,98.8 295.0,102.9 296.0,98.1 297.0,95.9 298.0,95.0 299.0,93.2 300.0,92.5 301.0,91.9 302.0,90.3 303.0,89.1 304.0,88.9 305.0,88.5 306.0,88.6 307.0,88.2 308.0,87.4 309.0,87.7 310.0,87.3 311.0,86.4 312.0,86.8 313.0,87.1 314.0,86.7 315.0,86.7 316.0,86.5 317.0,86.2 318.0,86.5 319.0,86.0 320.0,85.7 321.0,86.5 322.0,86.2 323.0,85.5 324.0,85.8 325.0,85.8 326.0,85.5 327.0,85.7 328.0,85.5 329.0,85.5 330.0,85.8 331.0,85.0 332.0,84.8 333.0,85.6 334.0,85.2 335.0,84.8 336.0,85.2 337.0,85.0 338.0,84.7 339.0,84.8 340.0,84.4 341.0,84.9 342.0,85.4 343.0,84.8 344.0,84.9 345.0,85.6 346.0,85.1 347.0,85.1 348.0,85.7 349.0,85.7 350.0,85.9 351.0,86.6 352.0,86.8 353.0,88.1 354.0,89.2 355.0,89.2 355.5,90.0 356.0,89.7 357.0,89.7 358.0,88.5 359.0,88.1 360.0,88.1 361.0,87.7 362.0,87.8 363.0,88.0 364.0,88.1 365.0,87.9 366.0,87.3 367.0,86.0 368.0,86.1 369.0,86.2 370.0,85.5 371.0,85.3 372.0,85.0 373.0,85.0 374.0,85.5 375.0,85.4 376.0,85.4 377.0,85.9 378.0,85.5 379.0,84.5 380.0,84.7 381.0,84.8 382.0,84.4 383.0,84.7 384.0,84.6 385.0,84.5 386.0,84.8 387.0,84.1 388.0,83.9 389.0,84.7 390.0,84.3 391.0,84.4 392.0,85.3 393.0,85.5 394.0,85.6 395.0,86.1 396.0,85.7 397.0,85.9 398.0,86.2 399.0,85.3 400.0,85.4 401.0,86.0 402.0,85.7 403.0,85.7 404.0,86.5 405.0,86.6 406.0,86.7 407.0,86.3 408.0,85.3 409.0,85.3 410.0,85.1 411.0,84.0 412.0,84.0 413.0,84.5 414.0,83.8 415.0,83.7 416.0,84.0 417.0,83.8 418.0,84.1 419.0,84.1 420.0,83.7 421.0,84.2 422.0,84.2 423.0,83.8 424.0,84.7 425.0,86.1 426.0,86.6 427.0,87.5 428.0,88.3 429.0,89.2 430.0,90.6 431.0,91.1 432.0,91.2 433.0,91.5 434.0,90.8 435.0,89.8 436.0,91.3 437.0,90.8 438.0,89.7 439.0,89.2 440.0,88.4 441.0,87.7 442.0,87.3 443.0,86.2 444.0,85.6 445.0,86.3 446.0,86.0 447.0,85.5 448.0,86.0 449.0,85.7 450.0,85.3 451.0,85.4 452.0,85.1 453.0,85.3 454.0,85.6 455.0,84.8 456.0,84.7 457.0,85.3 458.0,84.7 459.0,84.4 460.0,85.0 461.0,84.9 462.0,84.8 463.0,84.8 464.0,84.4 465.0,84.9 466.0,85.2 467.0,84.6 468.0,84.9 469.0,85.5 470.0,84.8 471.0,84.7 472.0,85.2 473.0,85.1 474.0,85.3 475.0,85.3 476.0,85.0 477.0,85.5 478.0,85.5 479.0,84.8 480.0,85.4 481.0,85.9 482.0,85.4 483.0,85.5 484.0,85.7 485.0,85.4 486.0,85.8 487.0,88.5 487.3,90.7 488.0,85.4 489.0,86.2 490.0,85.9 491.0,85.2 492.0,85.7 493.0,85.9 494.0,86.6 495.0,87.9 496.0,87.2 496.5,86.7 497.0,87.2 498.0,88.1 499.0,87.1 499.5,87.1 500.0,87.7 501.0,90.0 502.0,88.7 503.0,86.8 504.0,87.0 505.0,86.6 506.0,85.8 507.0,86.0 508.0,85.9 509.0,86.1 510.0,86.4 511.0,85.6 512.0,85.6 513.0,86.2 514.0,85.6 515.0,85.3 516.0,86.0 517.0,85.9 518.0,85.6 519.0,85.6 520.0,85.3 521.0,85.6 522.0,85.9 523.0,85.2 524.0,85.5 525.0,86.0 526.0,85.3 527.0,85.1 528.0,85.6 529.0,85.4 530.0,85.5 531.0,85.5 532.0,85.1 533.0,85.5 534.0,85.4 535.0,84.6 536.0,85.2 537.0,85.6 538.0,85.0 539.0,84.9 540.0,85.1 541.0,84.8 542.0,84.9 543.0,84.8 544.0,84.5 545.0,85.1 546.0,84.9 547.0,84.0 548.0,84.5 549.0,84.8 550.0,84.3 551.0,84.6 552.0,84.7 553.0,84.5 554.0,84.7 555.0,84.3 556.0,84.2 557.0,85.0 558.0,84.7 559.0,84.2 560.0,84.9 561.0,84.8 562.0,84.3 563.0,84.5 564.0,84.6 565.0,84.7 566.0,85.0 567.0,84.4 568.0,84.3 569.0,85.4 570.0,85.3 571.0,85.9 572.0,85.8 573.0,85.3 574.0,84.6 575.0,84.7 576.0,84.5 577.0,84.9 578.0,85.3 579.0,85.4 580.0,86.3 581.0,87.5 582.0,87.3 582.5,87.9 583.0,86.9 584.0,86.2 584.5,85.4 585.0,85.7 586.0,86.4 587.0,87.2 588.0,87.6 589.0,88.8 590.0,89.6 591.0,90.0 592.0,91.5 593.0,92.5 594.0,90.9 595.0,89.4 596.0,89.2 597.0,88.5 598.0,88.3 599.0,88.1 600.0,87.9 601.0,89.1 602.0,89.5 603.0,87.9 604.0,87.5 605.0,87.7 606.0,87.0 607.0,87.2 608.0,87.2 609.0,86.7 610.0,86.6 611.0,85.9 612.0,85.5 613.0,86.2 614.0,85.8 615.0,85.2 616.0,85.7 617.0,85.6 618.0,85.0 619.0,85.3 620.0,85.4 621.0,85.5 622.0,85.8 623.0,85.2 624.0,85.1 625.0,85.8 626.0,85.2 627.0,84.9 628.0,85.7 629.0,85.5 630.0,85.1 631.0,85.2 632.0,85.0 633.0,85.1 634.0,85.4 635.0,84.8 636.0,85.1 637.0,85.6 638.0,84.7 639.0,84.5 640.0,85.1 641.0,84.9 642.0,84.9 643.0,85.0 644.0,84.6 645.0,84.8 646.0,84.8 647.0,84.2 648.0,84.7 649.0,85.2"/><polyline points="82.0,356.1 82.0,356.3 83.0,356.3 84.0,356.2 85.0,356.2 86.0,356.0 87.0,356.2 88.0,356.3 89.0,356.1 90.0,356.2 91.0,356.4 92.0,356.1 93.0,356.1 94.0,356.2 95.0,356.2 96.0,356.3 97.0,356.3 98.0,356.1 99.0,356.3 100.0,356.3 101.0,356.0 102.0,356.2 103.0,356.4 104.0,356.2 105.0,356.2 106.0,356.2 107.0,356.1 108.0,356.2 109.0,356.2 110.0,356.1 111.0,356.4 112.0,356.3 113.0,356.0 114.0,356.2 115.0,356.3 116.0,356.1 117.0,356.2 118.0,356.2 119.0,356.2 120.0,356.3 121.0,356.1 122.0,356.0 123.0,356.4 124.0,356.2 125.0,356.1 126.0,356.3 127.0,356.3 128.0,356.1 129.0,356.2 130.0,356.1 131.0,356.2 132.0,356.4 133.0,356.1 134.0,356.1 135.0,356.4 136.0,356.1 137.0,356.0 138.0,356.3 139.0,356.3 140.0,356.2 141.0,356.2 142.0,356.1 143.0,356.2 144.0,356.3 145.0,356.1 146.0,356.2 147.0,356.4 148.0,356.1 149.0,356.1 150.0,356.2 151.0,356.2 152.0,356.2 153.0,356.2 154.0,356.0 155.0,356.2 156.0,356.1 157.0,355.8 158.0,356.0 159.0,356.2 160.0,356.0 161.0,355.9 162.0,355.9 163.0,355.8 164.0,355.8 165.0,355.7 166.0,355.5 167.0,355.8 168.0,355.6 169.0,355.3 170.0,355.4 171.0,355.4 172.0,355.2 173.0,355.2 174.0,355.2 175.0,355.1 176.0,355.2 177.0,354.0 178.0,353.2 179.0,353.3 180.0,352.2 181.0,351.4 182.0,352.2 183.0,352.6 184.0,352.9 185.0,352.7 186.0,352.5 187.0,352.6 188.0,352.8 189.0,352.0 190.0,351.8 191.0,351.8 192.0,350.5 193.0,349.6 194.0,349.6 195.0,348.6 196.0,350.0 197.0,351.4 198.0,353.0 199.0,355.2 200.0,357.1 201.0,353.9 202.0,351.4 203.0,349.2 204.0,347.3 205.0,346.4 206.0,347.3 207.0,347.9 208.0,347.2 209.0,346.5 210.0,346.2 211.0,346.6 212.0,346.5 213.0,346.9 214.0,348.6 215.0,349.1 216.0,348.5 217.0,348.5 218.0,348.2 219.0,347.4 220.0,347.1 221.0,346.1 222.0,345.0 223.0,344.3 224.0,346.0 225.0,346.6 225.5,347.9 226.0,347.0 227.0,345.2 228.0,342.8 228.5,342.1 229.0,343.1 230.0,345.3 231.0,347.1 232.0,347.1 233.0,346.5 234.0,346.2 235.0,346.4 236.0,347.3 237.0,347.9 238.0,347.3 239.0,346.4 240.0,345.4 241.0,346.2 242.0,347.0 243.0,347.9 244.0,348.2 245.0,347.6 246.0,347.5 247.0,348.0 248.0,347.4 249.0,347.3 250.0,348.3 251.0,348.3 252.0,348.1 253.0,348.3 254.0,348.2 255.0,348.6 256.0,348.9 257.0,348.4 258.0,348.8 259.0,349.4 260.0,348.6 261.0,348.5 262.0,349.0 263.0,348.7 264.0,348.3 265.0,348.1 266.0,347.6 267.0,348.1 268.0,348.4 269.0,348.0 270.0,348.2 271.0,348.3 271.5,347.6 272.0,347.7 273.0,348.2 274.0,349.0 275.0,349.1 276.0,349.5 277.0,349.7 278.0,349.8 279.0,350.6 280.0,350.6 281.0,349.8 282.0,350.4 283.0,350.7 284.0,350.1 285.0,340.8 285.5,336.0 286.0,339.4 287.0,345.4 287.5,348.6 288.0,345.4 289.0,338.4 290.0,333.5 290.5,331.4 291.0,333.7 292.0,337.2 293.0,339.6 293.5,341.4 294.0,340.1 295.0,336.8 295.5,335.0 296.0,336.7 297.0,341.3 298.0,343.2 299.0,345.1 300.0,346.4 301.0,346.9 302.0,348.0 303.0,349.7 304.0,349.7 305.0,350.0 306.0,351.4 307.0,351.8 308.0,351.9 309.0,352.3 310.0,352.3 311.0,352.7 312.0,353.2 313.0,352.9 314.0,353.4 315.0,354.1 316.0,353.4 317.0,353.4 318.0,354.1 319.0,354.0 320.0,354.1 321.0,354.4 322.0,354.2 323.0,354.5 324.0,354.6 325.0,354.1 326.0,354.7 327.0,355.2 328.0,354.5 329.0,354.6 330.0,355.0 331.0,354.7 332.0,354.8 333.0,354.9 334.0,354.8 335.0,355.4 336.0,355.2 337.0,354.4 338.0,355.0 339.0,355.3 340.0,354.7 341.0,355.0 342.0,355.3 343.0,355.0 344.0,355.0 345.0,354.8 346.0,354.5 347.0,355.1 348.0,354.6 349.0,353.9 350.0,354.0 351.0,353.4 352.0,352.2 353.0,352.0 354.0,351.4 355.0,350.6 356.0,349.7 357.0,350.2 358.0,350.8 359.0,352.0 360.0,352.0 361.0,352.2 362.0,353.1 363.0,353.0 364.0,352.4 365.0,352.7 366.0,352.8 367.0,353.3 368.0,353.9 369.0,353.6 370.0,354.0 371.0,354.6 372.0,354.0 373.0,353.7 374.0,354.3 375.0,354.0 376.0,353.7 377.0,353.8 378.0,353.7 379.0,354.1 380.0,354.4 381.0,353.8 382.0,354.4 383.0,354.9 384.0,354.1 385.0,354.1 386.0,354.5 387.0,354.1 388.0,354.2 389.0,354.4 390.0,354.2 391.0,354.5 392.0,354.1 393.0,353.1 394.0,353.5 395.0,353.6 396.0,353.1 397.0,353.6 398.0,354.0 399.0,353.7 400.0,353.9 401.0,353.7 402.0,353.6 403.0,354.3 404.0,354.1 405.0,352.9 406.0,353.0 406.5,352.4 407.0,353.1 408.0,353.4 409.0,354.5 410.0,355.2 411.0,354.8 412.0,354.8 413.0,354.3 414.0,355.2 415.0,356.8 416.0,357.4 416.5,358.0 417.0,357.5 418.0,357.7 419.0,359.7 420.0,361.2 421.0,364.0 422.0,365.4 422.5,366.3 423.0,364.5 424.0,361.3 424.5,359.3 425.0,360.6 426.0,363.0 426.5,363.7 427.0,363.7 428.0,362.0 429.0,361.2 430.0,361.3 431.0,360.8 432.0,360.2 433.0,360.3 434.0,358.5 434.5,356.3 435.0,358.0 435.3,359.0 436.0,357.5 437.0,354.9 438.0,354.9 439.0,354.3 440.0,355.4 441.0,356.8 442.0,359.1 442.5,359.7 443.0,359.3 444.0,358.8 445.0,358.8 446.0,358.5 447.0,358.6 448.0,358.1 449.0,357.3 450.0,357.8 451.0,358.0 452.0,357.2 453.0,357.4 454.0,357.7 455.0,357.2 456.0,357.2 457.0,357.1 458.0,357.0 459.0,357.5 460.0,357.3 461.0,356.7 462.0,357.3 463.0,357.2 464.0,356.5 465.0,356.9 466.0,357.2 467.0,357.0 468.0,357.1 469.0,356.8 470.0,356.6 471.0,357.2 472.0,356.7 473.0,356.5 474.0,357.3 475.0,357.1 476.0,356.4 477.0,356.7 478.0,356.7 479.0,356.7 480.0,356.9 481.0,356.5 482.0,356.6 483.0,357.0 484.0,356.2 485.0,356.0 486.0,356.8 487.0,354.4 487.3,352.1 488.0,356.6 489.0,356.9 490.0,356.8 491.0,356.9 492.0,357.0 493.0,356.6 494.0,357.2 495.0,357.0 496.0,355.9 497.0,356.0 498.0,356.6 499.0,356.3 500.0,355.7 501.0,355.3 502.0,356.5 503.0,357.9 504.0,358.0 505.0,357.7 506.0,358.6 507.0,358.9 508.0,358.0 509.0,358.2 510.0,358.5 511.0,357.8 512.0,357.5 513.0,357.4 514.0,357.1 515.0,357.5 516.0,357.1 517.0,356.4 518.0,356.9 519.0,356.7 520.0,355.9 521.0,356.2 522.0,356.4 523.0,356.0 524.0,356.0 525.0,355.6 526.0,355.5 527.0,356.0 528.0,355.6 529.0,355.3 530.0,356.2 531.0,356.0 532.0,355.3 533.0,355.7 534.0,355.7 535.0,355.6 536.0,355.9 537.0,355.6 538.0,355.7 539.0,356.2 540.0,355.4 541.0,355.3 542.0,356.2 543.0,355.9 544.0,355.6 545.0,356.0 546.0,355.8 547.0,355.7 548.0,355.8 549.0,355.5 550.0,355.9 551.0,356.4 552.0,355.6 553.0,355.5 554.0,356.2 555.0,355.7 556.0,355.6 557.0,356.1 558.0,355.9 559.0,356.1 560.0,356.0 561.0,355.5 562.0,356.1 563.0,356.5 564.0,355.8 565.0,356.2 566.0,356.7 567.0,356.2 568.0,356.4 569.0,355.9 570.0,355.3 571.0,355.0 572.0,355.7 573.0,355.8 574.0,356.7 575.0,356.7 576.0,355.8 577.0,356.1 578.0,356.4 579.0,355.6 580.0,355.2 581.0,354.6 582.0,353.5 583.0,352.7 584.0,354.5 584.5,355.5 585.0,354.8 586.0,355.0 587.0,354.2 588.0,352.5 589.0,352.0 590.0,351.2 591.0,350.5 592.0,350.2 593.0,349.5 594.0,350.8 595.0,352.6 596.0,352.2 597.0,352.3 598.0,353.5 599.0,353.4 600.0,353.2 601.0,353.0 602.0,352.2 603.0,352.9 604.0,353.9 605.0,353.8 606.0,354.4 607.0,355.0 608.0,354.4 609.0,354.5 610.0,355.2 611.0,354.8 612.0,354.7 613.0,355.3 614.0,355.3 615.0,355.5 616.0,355.5 617.0,355.0 618.0,355.5 619.0,355.9 620.0,355.2 621.0,355.5 622.0,356.0 623.0,355.3 624.0,355.2 625.0,355.5 626.0,355.4 627.0,355.8 628.0,355.7 629.0,355.1 630.0,355.7 631.0,355.7 632.0,355.0 633.0,355.5 634.0,355.9 635.0,355.5 636.0,355.5 637.0,355.4 638.0,355.2 639.0,355.6 640.0,355.3 641.0,355.1 642.0,355.8 643.0,355.6 644.0,354.8 645.0,355.2 646.0,355.4 647.0,355.1 648.0,355.4 649.0,355.2"/><polyline points="82.0,362.5 82.0,362.4 83.0,362.2 84.0,362.4 85.0,362.4 86.0,362.1 87.0,362.3 88.0,362.4 89.0,362.3 90.0,362.4 91.0,362.2 92.0,362.2 93.0,362.4 94.0,362.2 95.0,362.1 96.0,362.5 97.0,362.4 98.0,362.2 99.0,362.3 100.0,362.3 101.0,362.3 102.0,362.4 103.0,362.2 104.0,362.3 105.0,362.5 106.0,362.2 107.0,362.1 108.0,362.4 109.0,362.3 110.0,362.3 111.0,362.4 112.0,362.3 113.0,362.3 114.0,362.3 115.0,362.1 116.0,362.3 117.0,362.5 118.0,362.2 119.0,362.2 120.0,362.4 121.0,362.2 122.0,362.2 123.0,362.3 124.0,362.3 125.0,362.4 126.0,362.3 127.0,362.1 128.0,362.3 129.0,362.4 130.0,362.2 131.0,362.3 132.0,362.5 133.0,362.3 134.0,362.3 135.0,362.2 136.0,362.2 137.0,362.4 138.0,362.4 139.0,362.2 140.0,362.4 141.0,362.4 142.0,362.1 143.0,362.3 144.0,362.4 145.0,362.3 146.0,362.4 147.0,362.2 148.0,362.2 149.0,362.4 150.0,362.2 151.0,362.1 152.0,362.5 153.0,362.4 154.0,362.1 155.0,362.2 156.0,362.2 157.0,362.2 158.0,362.3 159.0,362.2 160.0,362.2 161.0,362.4 162.0,362.1 163.0,362.0 164.0,362.3 165.0,362.2 166.0,362.1 167.0,362.2 168.0,362.1 169.0,362.1 170.0,362.1 171.0,362.0 172.0,362.2 173.0,362.4 174.0,362.2 175.0,362.2 176.0,362.6 177.0,362.2 178.0,362.2 179.0,363.2 180.0,363.7 181.0,364.6 182.0,365.1 183.0,365.2 184.0,366.5 185.0,366.9 186.0,366.2 187.0,366.5 188.0,366.9 189.0,366.4 190.0,366.3 191.0,366.2 192.0,366.0 193.0,366.4 194.0,366.0 195.0,365.3 196.0,366.1 197.0,366.2 198.0,365.6 199.0,366.2 200.0,366.7 201.0,367.3 202.0,368.2 203.0,368.9 204.0,369.6 205.0,370.7 206.0,368.4 207.0,366.4 208.0,367.3 209.0,367.4 210.0,367.1 211.0,367.8 212.0,368.3 213.0,368.6 214.0,368.3 215.0,367.5 216.0,367.1 217.0,367.9 218.0,367.7 219.0,368.0 220.0,369.3 221.0,369.3 222.0,368.4 223.0,368.0 224.0,367.1 225.0,366.4 226.0,367.0 227.0,367.3 228.0,368.4 228.5,368.6 229.0,368.7 230.0,367.1 231.0,366.3 232.0,365.7 233.0,365.6 234.0,365.5 235.0,366.0 236.0,365.9 237.0,366.1 238.0,366.0 239.0,365.5 240.0,366.0 241.0,366.3 242.0,365.6 243.0,365.9 244.0,366.3 245.0,365.7 246.0,365.6 247.0,365.7 248.0,365.6 249.0,366.0 250.0,365.7 251.0,365.2 252.0,365.7 253.0,365.6 254.0,364.8 255.0,365.3 256.0,365.6 257.0,365.1 258.0,365.0 259.0,364.8 260.0,364.5 261.0,364.8 262.0,364.4 263.0,364.4 264.0,365.4 265.0,365.4 266.0,364.8 267.0,365.2 268.0,365.2 269.0,364.9 270.0,365.1 271.0,364.8 272.0,364.7 273.0,365.0 274.0,364.2 275.0,364.0 276.0,364.9 277.0,364.5 278.0,364.1 279.0,364.6 280.0,364.5 281.0,364.4 282.0,364.6 283.0,364.4 284.0,364.8 285.0,369.2 285.5,370.7 286.0,368.8 287.0,365.6 287.5,364.3 288.0,366.1 289.0,368.5 290.0,370.7 290.5,372.1 291.0,371.2 292.0,368.7 293.0,367.7 293.5,367.1 294.0,368.0 295.0,369.1 295.5,370.4 296.0,369.3 297.0,367.5 298.0,366.1 299.0,365.7 300.0,365.5 301.0,364.4 302.0,363.9 303.0,363.7 304.0,363.2 305.0,363.2 306.0,362.9 307.0,362.2 308.0,362.6 309.0,362.5 310.0,361.5 311.0,362.1 312.0,362.5 313.0,362.0 314.0,362.0 315.0,362.0 316.0,361.8 317.0,362.2 318.0,361.9 319.0,361.6 320.0,362.4 321.0,362.1 322.0,361.3 323.0,361.7 324.0,361.8 325.0,361.5 326.0,361.7 327.0,361.6 328.0,361.5 329.0,361.8 330.0,361.1 331.0,361.0 332.0,361.8 333.0,361.6 334.0,361.1 335.0,361.6 336.0,361.5 337.0,361.2 338.0,361.4 339.0,361.2 340.0,361.5 341.0,361.9 342.0,361.1 343.0,361.1 344.0,361.8 345.0,361.3 346.0,361.2 347.0,361.9 348.0,362.0 349.0,362.0 350.0,362.1 351.0,362.2 352.0,363.1 353.0,364.0 354.0,363.8 355.0,364.5 356.0,365.0 357.0,364.5 358.0,364.1 359.0,364.2 360.0,363.7 361.0,363.7 362.0,363.2 363.0,362.9 364.0,363.6 365.0,363.6 366.0,362.7 367.0,363.0 368.0,363.2 369.0,362.3 370.0,362.1 371.0,362.0 372.0,361.7 373.0,362.0 374.0,361.7 375.0,361.4 376.0,362.1 377.0,361.7 378.0,360.9 379.0,361.3 380.0,361.5 381.0,361.1 382.0,361.3 383.0,361.2 384.0,361.0 385.0,361.3 386.0,360.7 387.0,360.6 388.0,361.5 389.0,361.2 390.0,360.7 391.0,361.4 392.0,361.5 393.0,361.3 394.0,361.7 395.0,361.8 396.0,361.9 397.0,362.2 398.0,361.3 399.0,361.2 400.0,361.8 401.0,361.4 402.0,361.4 403.0,362.2 404.0,362.2 405.0,362.2 406.0,362.4 407.0,361.9 408.0,362.2 409.0,362.4 410.0,361.6 411.0,361.6 412.0,361.8 413.0,361.4 414.0,361.6 415.0,362.4 416.0,362.8 417.0,363.5 418.0,364.1 419.0,364.4 420.0,365.5 421.0,366.2 422.0,366.2 422.7,367.3 423.0,367.0 424.0,366.5 425.0,365.7 426.0,367.9 427.0,368.9 428.0,369.3 429.0,370.0 430.0,370.3 431.0,370.7 432.0,371.6 433.0,370.9 434.0,368.8 434.5,368.7 435.0,369.7 435.3,370.3 436.0,370.2 437.0,369.0 438.0,368.1 439.0,367.5 440.0,366.7 441.0,366.7 442.0,366.0 443.0,365.3 444.0,365.5 445.0,365.0 446.0,364.3 447.0,364.7 448.0,364.4 449.0,363.9 450.0,364.1 451.0,364.0 452.0,364.1 453.0,364.3 454.0,363.5 455.0,363.3 456.0,363.8 457.0,363.2 458.0,362.8 459.0,363.4 460.0,363.1 461.0,362.8 462.0,362.9 463.0,362.6 464.0,362.9 465.0,363.3 466.0,362.6 467.0,362.9 468.0,363.4 469.0,362.7 470.0,362.5 471.0,363.1 472.0,363.0 473.0,363.2 474.0,363.2 475.0,362.8 476.0,363.3 477.0,363.3 478.0,362.7 479.0,363.3 480.0,363.8 481.0,363.2 482.0,363.2 483.0,363.5 484.0,363.3 485.0,363.6 486.0,363.6 487.0,364.8 487.3,366.4 487.9,363.6 488.0,364.0 489.0,363.9 490.0,363.3 491.0,363.9 492.0,364.4 493.0,364.0 494.0,364.4 495.0,365.2 496.0,365.6 497.0,366.7 497.5,367.0 498.0,366.3 499.0,365.7 500.0,367.1 501.0,367.6 502.0,366.1 503.0,365.5 504.0,365.2 505.0,364.5 506.0,364.5 507.0,364.3 508.0,364.3 509.0,364.5 510.0,363.8 511.0,363.6 512.0,364.2 513.0,363.7 514.0,363.3 515.0,364.0 516.0,363.7 517.0,363.3 518.0,363.3 519.0,362.9 520.0,363.1 521.0,363.4 522.0,362.6 523.0,362.8 524.0,363.3 525.0,362.5 526.0,362.2 527.0,362.8 528.0,362.6 529.0,362.5 530.0,362.5 531.0,362.1 532.0,362.5 533.0,362.5 534.0,361.8 535.0,362.4 536.0,362.9 537.0,362.1 538.0,362.1 539.0,362.4 540.0,362.1 541.0,362.2 542.0,362.2 543.0,362.0 544.0,362.6 545.0,362.3 546.0,361.5 547.0,362.1 548.0,362.4 549.0,361.9 550.0,362.1 551.0,362.3 552.0,362.0 553.0,362.2 554.0,361.9 555.0,361.8 556.0,362.6 557.0,362.3 558.0,361.7 559.0,362.3 560.0,362.3 561.0,361.7 562.0,362.1 563.0,362.2 564.0,362.2 565.0,362.4 566.0,361.8 567.0,361.8 568.0,362.5 569.0,362.4 570.0,362.5 571.0,363.7 572.0,363.3 573.0,362.6 574.0,362.6 575.0,362.5 576.0,362.8 577.0,363.2 578.0,362.7 579.0,363.1 580.0,363.9 581.0,363.4 582.0,363.5 583.0,364.5 584.0,364.4 585.0,364.4 586.0,364.6 587.0,364.4 588.0,365.1 589.0,365.6 590.0,365.4 591.0,366.3 592.0,367.2 593.0,366.8 594.0,366.4 595.0,366.4 596.0,365.8 597.0,365.8 598.0,365.7 599.0,365.4 600.0,365.8 601.0,365.4 602.0,364.4 603.0,364.8 604.0,365.0 605.0,364.2 606.0,364.3 607.0,364.4 608.0,363.9 609.0,363.9 610.0,363.5 611.0,363.2 612.0,363.8 613.0,363.3 614.0,362.5 615.0,363.0 616.0,362.8 617.0,362.1 618.0,362.5 619.0,362.6 620.0,362.5 621.0,362.6 622.0,362.0 623.0,361.9 624.0,362.5 625.0,362.0 626.0,361.7 627.0,362.5 628.0,362.3 629.0,361.8 630.0,362.0 631.0,362.0 632.0,362.1 633.0,362.4 634.0,361.9 635.0,362.0 636.0,362.6 637.0,361.8 638.0,361.6 639.0,362.4 640.0,362.2 641.0,362.1 642.0,362.2 643.0,361.9 644.0,362.1 645.0,362.2 646.0,361.7 647.0,362.2 648.0,362.7 649.0,361.9"/></g><g shape-rendering="crispEdges"><rect x="103" y="73.3" width="1" height="11.6" fill="#201800" fill-opacity="0.75"/><rect x="104" y="73.3" width="1" height="11.6" fill="#201800" fill-opacity="0.45"/><rect x="106" y="73.3" width="1" height="11.6" fill="#201800" fill-opacity="0.9"/><rect x="110" y="73.3" width="1" height="11.6" fill="#201800" fill-opacity="0.9"/><rect x="112" y="73.3" width="1" height="11.6" fill="#201800" fill-opacity="0.8"/><rect x="120" y="73.3" width="1" height="11.6" fill="#201800" fill-opacity="0.85"/><rect x="123" y="73.3" width="1" height="11.6" fill="#201800" fill-opacity="0.85"/><rect x="129" y="73.3" width="1" height="11.6" fill="#201800" fill-opacity="0.9"/><rect x="130" y="73.3" width="1" height="11.6" fill="#201800" fill-opacity="0.5"/><rect x="133" y="73.3" width="1" height="11.6" fill="#201800" fill-opacity="0.9"/><rect x="139" y="73.3" width="1" height="11.6" fill="#201800" fill-opacity="0.6"/><rect x="140" y="73.3" width="1" height="11.6" fill="#201800" fill-opacity="0.55"/><rect x="143" y="73.3" width="1" height="11.6" fill="#201800" fill-opacity="0.85"/><rect x="146" y="73.3" width="1" height="11.6" fill="#201800" fill-opacity="0.8"/><rect x="148" y="73.3" width="1" height="11.6" fill="#201800" fill-opacity="0.7"/><rect x="153" y="73.3" width="1" height="11.6" fill="#201800" fill-opacity="0.85"/><rect x="155" y="73.3" width="1" height="11.6" fill="#201800" fill-opacity="0.4"/><rect x="111" y="73.0" width="1" height="11.2" fill="#fff" fill-opacity="1"/><rect x="141" y="73.0" width="1" height="11.2" fill="#fff" fill-opacity="1"/><rect x="142" y="73.0" width="1" height="11.2" fill="#fff" fill-opacity="0.8"/><rect x="147" y="73.0" width="1" height="11.2" fill="#fff" fill-opacity="0.9"/><rect x="182" y="73.3" width="1" height="7.5" fill="#201800" fill-opacity="0.9"/><rect x="183" y="73.5" width="1" height="7.5" fill="#201800" fill-opacity="0.5"/><rect x="184" y="73.2" width="1" height="7.5" fill="#201800" fill-opacity="0.8"/><rect x="186" y="73.1" width="1" height="7.5" fill="#201800" fill-opacity="0.9"/><rect x="188" y="73.5" width="1" height="7.5" fill="#201800" fill-opacity="0.9"/><rect x="190" y="73.0" width="1" height="7.5" fill="#201800" fill-opacity="0.7"/><rect x="192" y="73.3" width="1" height="7.5" fill="#201800" fill-opacity="0.4"/><rect x="193" y="72.9" width="1" height="7.5" fill="#201800" fill-opacity="0.85"/><rect x="196" y="73.3" width="1" height="7.5" fill="#201800" fill-opacity="0.9"/><rect x="197" y="73.3" width="1" height="7.5" fill="#201800" fill-opacity="0.8"/><rect x="198" y="73.1" width="1" height="7.5" fill="#201800" fill-opacity="0.6"/><rect x="199" y="73.0" width="1" height="7.5" fill="#201800" fill-opacity="0.9"/><rect x="200" y="73.3" width="1" height="7.5" fill="#201800" fill-opacity="0.7"/><rect x="201" y="73.1" width="1" height="7.5" fill="#201800" fill-opacity="0.8"/><rect x="204" y="73.4" width="1" height="7.5" fill="#201800" fill-opacity="0.85"/><rect x="205" y="72.9" width="1" height="7.5" fill="#201800" fill-opacity="0.5"/><rect x="212" y="73.3" width="1" height="7.5" fill="#201800" fill-opacity="0.85"/><rect x="213" y="72.9" width="1" height="7.5" fill="#201800" fill-opacity="0.6"/><rect x="216" y="73.3" width="1" height="7.5" fill="#201800" fill-opacity="0.9"/><rect x="217" y="73.0" width="1" height="7.5" fill="#201800" fill-opacity="0.8"/><rect x="219" y="73.1" width="1" height="7.5" fill="#201800" fill-opacity="0.85"/><rect x="221" y="73.0" width="1" height="7.5" fill="#201800" fill-opacity="0.6"/><rect x="222" y="72.8" width="1" height="7.5" fill="#201800" fill-opacity="0.8"/><rect x="236" y="72.9" width="1" height="7.5" fill="#201800" fill-opacity="0.7"/><rect x="237" y="72.5" width="1" height="7.5" fill="#201800" fill-opacity="0.9"/><rect x="238" y="72.5" width="1" height="7.5" fill="#201800" fill-opacity="0.5"/><rect x="240" y="72.4" width="1" height="7.5" fill="#201800" fill-opacity="0.85"/><rect x="241" y="72.2" width="1" height="7.5" fill="#201800" fill-opacity="0.6"/><rect x="242" y="72.2" width="1" height="7.5" fill="#201800" fill-opacity="0.9"/><rect x="243" y="72.2" width="1" height="7.5" fill="#201800" fill-opacity="0.85"/><rect x="244" y="72.4" width="1" height="7.5" fill="#201800" fill-opacity="0.5"/><rect x="497" y="76.4" width="1" height="7.6" fill="#201800" fill-opacity="0.9"/><rect x="528" y="73.3" width="1" height="6.7" fill="#201800" fill-opacity="0.9"/><rect x="530" y="73.3" width="1" height="6.7" fill="#201800" fill-opacity="0.85"/><rect x="533" y="73.3" width="1" height="6.7" fill="#201800" fill-opacity="0.8"/><rect x="542" y="73.3" width="1" height="6.7" fill="#201800" fill-opacity="0.85"/><rect x="547" y="73.3" width="1" height="6.7" fill="#201800" fill-opacity="0.8"/><rect x="562" y="73" width="1" height="7.0" fill="#201800" fill-opacity="0.5"/><rect x="563" y="73" width="1" height="7.0" fill="#201800" fill-opacity="0.6"/><rect x="617" y="73.4" width="1" height="10.2" fill="#050300" fill-opacity="0.95"/><rect x="618" y="73.4" width="1" height="10.2" fill="#050300" fill-opacity="0.45"/><rect x="103" y="355.4" width="1" height="7.2" fill="#201800" fill-opacity="0.75"/><rect x="104" y="355.4" width="1" height="7.2" fill="#201800" fill-opacity="0.45"/><rect x="106" y="355.4" width="1" height="7.2" fill="#201800" fill-opacity="0.9"/><rect x="110" y="355.4" width="1" height="7.2" fill="#201800" fill-opacity="0.9"/><rect x="112" y="355.4" width="1" height="7.2" fill="#201800" fill-opacity="0.8"/><rect x="120" y="355.4" width="1" height="7.2" fill="#201800" fill-opacity="0.85"/><rect x="123" y="355.4" width="1" height="7.2" fill="#201800" fill-opacity="0.85"/><rect x="129" y="355.4" width="1" height="7.2" fill="#201800" fill-opacity="0.9"/><rect x="130" y="355.4" width="1" height="7.2" fill="#201800" fill-opacity="0.5"/><rect x="133" y="355.4" width="1" height="7.2" fill="#201800" fill-opacity="0.9"/><rect x="139" y="355.4" width="1" height="7.2" fill="#201800" fill-opacity="0.6"/><rect x="140" y="355.4" width="1" height="7.2" fill="#201800" fill-opacity="0.55"/><rect x="143" y="355.4" width="1" height="7.2" fill="#201800" fill-opacity="0.85"/><rect x="146" y="355.4" width="1" height="7.2" fill="#201800" fill-opacity="0.8"/><rect x="148" y="355.4" width="1" height="7.2" fill="#201800" fill-opacity="0.7"/><rect x="153" y="355.4" width="1" height="7.2" fill="#201800" fill-opacity="0.85"/><rect x="155" y="355.4" width="1" height="7.2" fill="#201800" fill-opacity="0.4"/><rect x="111" y="355.0" width="1" height="7.6" fill="#fff" fill-opacity="1"/><rect x="141" y="355.0" width="1" height="7.6" fill="#fff" fill-opacity="1"/><rect x="142" y="355.0" width="1" height="7.6" fill="#fff" fill-opacity="0.8"/><rect x="147" y="355.0" width="1" height="7.6" fill="#fff" fill-opacity="0.9"/><rect x="103" y="362.2" width="1" height="5.7" fill="#0c0800" fill-opacity="0.9"/><rect x="104" y="362.2" width="1" height="5.7" fill="#0c0800" fill-opacity="0.8"/><rect x="106" y="362.2" width="1" height="5.7" fill="#0c0800" fill-opacity="0.9"/><rect x="107" y="362.2" width="1" height="5.7" fill="#0c0800" fill-opacity="0.6"/><rect x="109" y="362.2" width="1" height="5.7" fill="#0c0800" fill-opacity="0.5"/><rect x="110" y="362.2" width="1" height="5.7" fill="#0c0800" fill-opacity="0.95"/><rect x="111" y="362.2" width="1" height="5.7" fill="#0c0800" fill-opacity="0.9"/><rect x="112" y="362.2" width="1" height="5.7" fill="#0c0800" fill-opacity="0.3"/><rect x="120" y="362.2" width="1" height="5.7" fill="#0c0800" fill-opacity="0.9"/><rect x="121" y="362.2" width="1" height="5.7" fill="#0c0800" fill-opacity="0.3"/><rect x="123" y="362.2" width="1" height="5.7" fill="#0c0800" fill-opacity="0.9"/><rect x="124" y="362.2" width="1" height="5.7" fill="#0c0800" fill-opacity="0.3"/><rect x="129" y="362.2" width="1" height="5.7" fill="#0c0800" fill-opacity="0.95"/><rect x="130" y="362.2" width="1" height="5.7" fill="#0c0800" fill-opacity="0.95"/><rect x="131" y="362.2" width="1" height="5.7" fill="#0c0800" fill-opacity="0.6"/><rect x="133" y="362.2" width="1" height="5.7" fill="#0c0800" fill-opacity="0.9"/><rect x="134" y="362.2" width="1" height="5.7" fill="#0c0800" fill-opacity="0.7"/><rect x="138" y="362.2" width="1" height="5.7" fill="#0c0800" fill-opacity="0.6"/><rect x="139" y="362.2" width="1" height="5.7" fill="#0c0800" fill-opacity="0.9"/><rect x="140" y="362.2" width="1" height="5.7" fill="#0c0800" fill-opacity="0.9"/><rect x="143" y="362.2" width="1" height="5.7" fill="#0c0800" fill-opacity="0.8"/><rect x="146" y="362.2" width="1" height="5.7" fill="#0c0800" fill-opacity="0.9"/><rect x="147" y="362.2" width="1" height="5.7" fill="#0c0800" fill-opacity="0.8"/><rect x="154" y="362.2" width="1" height="5.7" fill="#0c0800" fill-opacity="0.8"/><rect x="155" y="362.2" width="1" height="5.7" fill="#0c0800" fill-opacity="0.5"/><rect x="141" y="367" width="2" height="1" fill="#0c0800" fill-opacity="0.85"/><rect x="182" y="352.1" width="1" height="7.8" fill="#201800" fill-opacity="0.9"/><rect x="183" y="352.4" width="1" height="7.8" fill="#201800" fill-opacity="0.5"/><rect x="184" y="352.5" width="1" height="7.8" fill="#201800" fill-opacity="0.8"/><rect x="186" y="352.3" width="1" height="7.8" fill="#201800" fill-opacity="0.9"/><rect x="188" y="352.1" width="1" height="7.8" fill="#201800" fill-opacity="0.9"/><rect x="190" y="351.5" width="1" height="7.8" fill="#201800" fill-opacity="0.7"/><rect x="192" y="349.8" width="1" height="7.8" fill="#201800" fill-opacity="0.4"/><rect x="193" y="349.3" width="1" height="7.8" fill="#201800" fill-opacity="0.85"/><rect x="196" y="350.4" width="1" height="7.8" fill="#201800" fill-opacity="0.9"/><rect x="197" y="351.9" width="1" height="7.8" fill="#201800" fill-opacity="0.8"/><rect x="198" y="353.8" width="1" height="7.8" fill="#201800" fill-opacity="0.6"/><rect x="199" y="355.9" width="1" height="7.8" fill="#201800" fill-opacity="0.9"/><rect x="200" y="355.2" width="1" height="7.8" fill="#201800" fill-opacity="0.7"/><rect x="201" y="352.4" width="1" height="7.8" fill="#201800" fill-opacity="0.8"/><rect x="204" y="346.5" width="1" height="7.8" fill="#201800" fill-opacity="0.85"/><rect x="205" y="346.5" width="1" height="7.8" fill="#201800" fill-opacity="0.5"/><rect x="212" y="346.4" width="1" height="7.8" fill="#201800" fill-opacity="0.85"/><rect x="213" y="347.5" width="1" height="7.8" fill="#201800" fill-opacity="0.6"/><rect x="216" y="348.2" width="1" height="7.8" fill="#201800" fill-opacity="0.9"/><rect x="217" y="348.1" width="1" height="7.8" fill="#201800" fill-opacity="0.8"/><rect x="219" y="347.0" width="1" height="7.8" fill="#201800" fill-opacity="0.85"/><rect x="221" y="345.3" width="1" height="7.8" fill="#201800" fill-opacity="0.6"/><rect x="222" y="344.4" width="1" height="7.8" fill="#201800" fill-opacity="0.8"/><rect x="236" y="347.3" width="1" height="7.8" fill="#201800" fill-opacity="0.7"/><rect x="237" y="347.3" width="1" height="7.8" fill="#201800" fill-opacity="0.9"/><rect x="238" y="346.6" width="1" height="7.8" fill="#201800" fill-opacity="0.5"/><rect x="240" y="345.5" width="1" height="7.8" fill="#201800" fill-opacity="0.85"/><rect x="241" y="346.3" width="1" height="7.8" fill="#201800" fill-opacity="0.6"/><rect x="242" y="347.2" width="1" height="7.8" fill="#201800" fill-opacity="0.9"/><rect x="243" y="347.8" width="1" height="7.8" fill="#201800" fill-opacity="0.85"/><rect x="244" y="347.6" width="1" height="7.8" fill="#201800" fill-opacity="0.5"/><rect x="182" y="364.0" width="1" height="4.4" fill="#201800" fill-opacity="0.9"/><rect x="183" y="364.7" width="1" height="4.4" fill="#201800" fill-opacity="0.5"/><rect x="184" y="365.5" width="1" height="4.4" fill="#201800" fill-opacity="0.8"/><rect x="186" y="365.1" width="1" height="4.4" fill="#201800" fill-opacity="0.9"/><rect x="188" y="365.5" width="1" height="4.4" fill="#201800" fill-opacity="0.9"/><rect x="190" y="365.1" width="1" height="4.4" fill="#201800" fill-opacity="0.7"/><rect x="192" y="365.0" width="1" height="4.4" fill="#201800" fill-opacity="0.4"/><rect x="193" y="365.0" width="1" height="4.4" fill="#201800" fill-opacity="0.85"/><rect x="196" y="364.9" width="1" height="4.4" fill="#201800" fill-opacity="0.9"/><rect x="197" y="364.7" width="1" height="4.4" fill="#201800" fill-opacity="0.8"/><rect x="198" y="364.7" width="1" height="4.4" fill="#201800" fill-opacity="0.6"/><rect x="199" y="365.3" width="1" height="4.4" fill="#201800" fill-opacity="0.9"/><rect x="200" y="365.8" width="1" height="4.4" fill="#201800" fill-opacity="0.7"/><rect x="201" y="366.6" width="1" height="4.4" fill="#201800" fill-opacity="0.8"/><rect x="204" y="369.0" width="1" height="4.4" fill="#201800" fill-opacity="0.85"/><rect x="205" y="368.4" width="1" height="4.4" fill="#201800" fill-opacity="0.5"/><rect x="212" y="367.2" width="1" height="4.4" fill="#201800" fill-opacity="0.85"/><rect x="213" y="367.2" width="1" height="4.4" fill="#201800" fill-opacity="0.6"/><rect x="216" y="366.3" width="1" height="4.4" fill="#201800" fill-opacity="0.9"/><rect x="217" y="366.6" width="1" height="4.4" fill="#201800" fill-opacity="0.8"/><rect x="219" y="367.4" width="1" height="4.4" fill="#201800" fill-opacity="0.85"/><rect x="221" y="367.6" width="1" height="4.4" fill="#201800" fill-opacity="0.6"/><rect x="222" y="367.0" width="1" height="4.4" fill="#201800" fill-opacity="0.8"/><rect x="236" y="364.8" width="1" height="4.4" fill="#201800" fill-opacity="0.7"/><rect x="237" y="364.8" width="1" height="4.4" fill="#201800" fill-opacity="0.9"/><rect x="238" y="364.5" width="1" height="4.4" fill="#201800" fill-opacity="0.5"/><rect x="240" y="365.0" width="1" height="4.4" fill="#201800" fill-opacity="0.85"/><rect x="241" y="364.8" width="1" height="4.4" fill="#201800" fill-opacity="0.6"/><rect x="242" y="364.5" width="1" height="4.4" fill="#201800" fill-opacity="0.9"/><rect x="243" y="364.9" width="1" height="4.4" fill="#201800" fill-opacity="0.85"/><rect x="244" y="364.8" width="1" height="4.4" fill="#201800" fill-opacity="0.5"/><rect x="497" y="355" width="1" height="13.6" fill="#201800" fill-opacity="0.9"/><rect x="498" y="355" width="1" height="13.6" fill="#201800" fill-opacity="0.5"/><rect x="528" y="355.7" width="1" height="10.4" fill="#201800" fill-opacity="0.9"/><rect x="530" y="355.7" width="1" height="10.4" fill="#201800" fill-opacity="0.85"/><rect x="533" y="355.7" width="1" height="10.4" fill="#201800" fill-opacity="0.8"/><rect x="542" y="355.7" width="1" height="10.4" fill="#201800" fill-opacity="0.85"/><rect x="547" y="355.7" width="1" height="10.4" fill="#201800" fill-opacity="0.8"/><rect x="562" y="356" width="1" height="9.4" fill="#201800" fill-opacity="0.5"/><rect x="563" y="356" width="1" height="9.4" fill="#201800" fill-opacity="0.6"/><rect x="617" y="354.4" width="1" height="13.2" fill="#050300" fill-opacity="0.97"/><rect x="618" y="354.4" width="1" height="13.2" fill="#050300" fill-opacity="0.85"/></g><g shape-rendering="crispEdges"><rect x="81" y="234" width="1" height="6" fill="#ffc910"/><rect x="82" y="234" width="1" height="6" fill="#ff9e0d"/><rect x="83" y="234" width="1" height="6" fill="#ffc910"/><rect x="84" y="234" width="1" height="6" fill="#fff414"/><rect x="85" y="234" width="1" height="6" fill="#ffc010"/><rect x="86" y="234" width="1" height="6" fill="#ff9e0d"/><rect x="87" y="234" width="1" height="6" fill="#ffd211"/><rect x="88" y="234" width="1" height="6" fill="#fff414"/><rect x="89" y="234" width="1" height="6" fill="#ffc010"/><rect x="90" y="234" width="1" height="6" fill="#ff9e0d"/><rect x="91" y="234" width="1" height="6" fill="#ffda12"/><rect x="92" y="234" width="1" height="6" fill="#fff414"/><rect x="93" y="234" width="1" height="6" fill="#ffb80f"/><rect x="94" y="234" width="1" height="6" fill="#ff9e0d"/><rect x="95" y="234" width="1" height="6" fill="#ffda12"/><rect x="96" y="234" width="1" height="6" fill="#fff414"/><rect x="97" y="234" width="1" height="6" fill="#ffaf0e"/><rect x="98" y="234" width="1" height="6" fill="#ff9e0d"/><rect x="99" y="234" width="1" height="6" fill="#ffe313"/><rect x="100" y="234" width="1" height="6" fill="#fff414"/><rect x="101" y="234" width="1" height="6" fill="#ffaf0e"/><rect x="102" y="234" width="1" height="6" fill="#ff9e0d"/><rect x="103" y="234" width="1" height="6" fill="#a4ff12"/><rect x="104" y="234" width="1" height="6" fill="#c8fb13"/><rect x="105" y="234" width="1" height="6" fill="#ffc010"/><rect x="106" y="234" width="4" height="6" fill="#fff414"/><rect x="110" y="234" width="1" height="6" fill="#e4f713"/><rect x="111" y="234" width="1" height="6" fill="#a4ff12"/><rect x="112" y="234" width="1" height="6" fill="#f6f514"/><rect x="113" y="234" width="2" height="6" fill="#ff9e0d"/><rect x="115" y="234" width="1" height="6" fill="#fff414"/><rect x="116" y="234" width="1" height="6" fill="#ffeb13"/><rect x="117" y="234" width="1" height="6" fill="#ff9e0d"/><rect x="118" y="234" width="1" height="6" fill="#ffa70e"/><rect x="119" y="234" width="1" height="6" fill="#dcfa14"/><rect x="120" y="234" width="1" height="6" fill="#eeee13"/><rect x="121" y="234" width="1" height="6" fill="#ff9e0d"/><rect x="122" y="234" width="1" height="6" fill="#f6b00e"/><rect x="123" y="234" width="1" height="6" fill="#a4ff12"/><rect x="124" y="234" width="1" height="6" fill="#e4e612"/><rect x="125" y="234" width="1" height="6" fill="#ff9e0d"/><rect x="126" y="234" width="1" height="6" fill="#ffaf0e"/><rect x="127" y="234" width="3" height="6" fill="#fff414"/><rect x="130" y="234" width="1" height="6" fill="#e0f914"/><rect x="131" y="234" width="1" height="6" fill="#f4f614"/><rect x="132" y="234" width="4" height="6" fill="#fff414"/><rect x="136" y="234" width="1" height="6" fill="#ffeb13"/><rect x="137" y="234" width="1" height="6" fill="#ff9e0d"/><rect x="138" y="234" width="1" height="6" fill="#ffc010"/><rect x="139" y="234" width="3" height="6" fill="#dcfa14"/><rect x="142" y="234" width="1" height="6" fill="#b5fe13"/><rect x="143" y="234" width="1" height="6" fill="#dbf813"/><rect x="144" y="234" width="1" height="6" fill="#ffc910"/><rect x="145" y="234" width="1" height="6" fill="#ff9e0d"/><rect x="146" y="234" width="1" height="6" fill="#b6ec11"/><rect x="147" y="234" width="1" height="6" fill="#a4ff12"/><rect x="148" y="234" width="1" height="6" fill="#dbc50f"/><rect x="149" y="234" width="1" height="6" fill="#ff9e0d"/><rect x="150" y="234" width="1" height="6" fill="#ffd211"/><rect x="151" y="234" width="1" height="6" fill="#fff414"/><rect x="152" y="234" width="1" height="6" fill="#ffc010"/><rect x="153" y="234" width="1" height="6" fill="#ff9e0d"/><rect x="154" y="234" width="1" height="6" fill="#ffda12"/><rect x="155" y="234" width="1" height="6" fill="#fff414"/><rect x="156" y="234" width="1" height="6" fill="#ffb80f"/><rect x="157" y="234" width="1" height="6" fill="#ff9e0d"/><rect x="158" y="234" width="1" height="6" fill="#a4ff12"/><rect x="159" y="234" width="1" height="6" fill="#b6fd12"/><rect x="160" y="234" width="2" height="6" fill="#fff414"/><rect x="162" y="234" width="1" height="6" fill="#dbf813"/><rect x="163" y="234" width="1" height="6" fill="#a4ff12"/><rect x="164" y="234" width="1" height="6" fill="#dbc50f"/><rect x="165" y="234" width="1" height="6" fill="#ff9e0d"/><rect x="166" y="234" width="1" height="6" fill="#ffe313"/><rect x="167" y="234" width="1" height="6" fill="#fff414"/><rect x="168" y="234" width="1" height="6" fill="#ffa70e"/><rect x="169" y="234" width="1" height="6" fill="#ff9e0d"/><rect x="170" y="234" width="1" height="6" fill="#ffeb13"/><rect x="171" y="234" width="1" height="6" fill="#fff414"/><rect x="172" y="234" width="1" height="6" fill="#ffa70e"/><rect x="173" y="234" width="1" height="6" fill="#ff9e0d"/><rect x="174" y="234" width="2" height="6" fill="#fff414"/><rect x="176" y="234" width="2" height="6" fill="#ff9e0d"/><rect x="178" y="234" width="1" height="6" fill="#fff414"/><rect x="179" y="234" width="1" height="6" fill="#ffeb13"/><rect x="180" y="234" width="1" height="6" fill="#ff9e0d"/><rect x="181" y="234" width="1" height="6" fill="#e4bb0e"/><rect x="182" y="234" width="1" height="6" fill="#a4ff12"/><rect x="183" y="234" width="1" height="6" fill="#adf512"/><rect x="184" y="234" width="1" height="6" fill="#ff9e0d"/><rect x="185" y="234" width="1" height="6" fill="#ffaf0e"/><rect x="186" y="234" width="1" height="6" fill="#fff414"/><rect x="187" y="234" width="1" height="6" fill="#ffe313"/><rect x="188" y="234" width="1" height="6" fill="#ff9e0d"/><rect x="189" y="234" width="1" height="6" fill="#ffaf0e"/><rect x="190" y="234" width="1" height="6" fill="#fff414"/><rect x="191" y="234" width="1" height="6" fill="#ffda12"/><rect x="192" y="234" width="1" height="6" fill="#ff9e0d"/><rect x="193" y="234" width="1" height="6" fill="#ffeb13"/><rect x="194" y="234" width="3" height="6" fill="#fff414"/><rect x="197" y="234" width="1" height="6" fill="#eaf814"/><rect x="198" y="234" width="2" height="6" fill="#dcfa14"/><rect x="200" y="234" width="1" height="6" fill="#f4f614"/><rect x="201" y="234" width="2" height="6" fill="#fff414"/><rect x="203" y="234" width="1" height="6" fill="#ffeb13"/><rect x="204" y="234" width="1" height="6" fill="#ff9e0d"/><rect x="205" y="234" width="1" height="6" fill="#ffd211"/><rect x="206" y="234" width="1" height="6" fill="#fff414"/><rect x="207" y="234" width="1" height="6" fill="#ffc910"/><rect x="208" y="234" width="1" height="6" fill="#ff9e0d"/><rect x="209" y="234" width="1" height="6" fill="#ffda12"/><rect x="210" y="234" width="1" height="6" fill="#fff414"/><rect x="211" y="234" width="1" height="6" fill="#ffc010"/><rect x="212" y="234" width="1" height="6" fill="#ff9e0d"/><rect x="213" y="234" width="1" height="6" fill="#ffe313"/><rect x="214" y="234" width="1" height="6" fill="#fff414"/><rect x="215" y="234" width="1" height="6" fill="#ffc010"/><rect x="216" y="234" width="1" height="6" fill="#e4bb0e"/><rect x="217" y="234" width="1" height="6" fill="#a4ff12"/><rect x="218" y="234" width="1" height="6" fill="#adfe12"/><rect x="219" y="234" width="1" height="6" fill="#ffb80f"/><rect x="220" y="234" width="1" height="6" fill="#f1c310"/><rect x="221" y="234" width="1" height="6" fill="#dcfa14"/><rect x="222" y="234" width="1" height="6" fill="#f1f614"/><rect x="223" y="234" width="1" height="6" fill="#ffaf0e"/><rect x="224" y="234" width="1" height="6" fill="#ff9e0d"/><rect x="225" y="234" width="1" height="6" fill="#ffeb13"/><rect x="226" y="234" width="1" height="6" fill="#fff414"/><rect x="227" y="234" width="1" height="6" fill="#ffaf0e"/><rect x="228" y="234" width="1" height="6" fill="#ff9e0d"/><rect x="229" y="234" width="2" height="6" fill="#fff414"/><rect x="231" y="234" width="2" height="6" fill="#ffa70e"/><rect x="233" y="234" width="2" height="6" fill="#fff414"/><rect x="235" y="234" width="1" height="6" fill="#ffa70e"/><rect x="236" y="234" width="1" height="6" fill="#e0f113"/><rect x="237" y="234" width="1" height="6" fill="#dcfa14"/><rect x="238" y="234" width="1" height="6" fill="#eaf814"/><rect x="239" y="234" width="1" height="6" fill="#ff9e0d"/><rect x="240" y="234" width="1" height="6" fill="#ffaf0e"/><rect x="241" y="234" width="1" height="6" fill="#fff414"/><rect x="242" y="234" width="1" height="6" fill="#ffeb13"/><rect x="243" y="234" width="1" height="6" fill="#ff9e0d"/><rect x="244" y="234" width="1" height="6" fill="#ffb80f"/><rect x="245" y="234" width="1" height="6" fill="#fff414"/><rect x="246" y="234" width="1" height="6" fill="#ffeb13"/><rect x="247" y="234" width="1" height="6" fill="#ff9e0d"/><rect x="248" y="234" width="1" height="6" fill="#ffb80f"/><rect x="249" y="234" width="1" height="6" fill="#fff414"/><rect x="250" y="234" width="1" height="6" fill="#ffe313"/><rect x="251" y="234" width="1" height="6" fill="#ff9e0d"/><rect x="252" y="234" width="1" height="6" fill="#ffc010"/><rect x="253" y="234" width="1" height="6" fill="#fff414"/><rect x="254" y="234" width="1" height="6" fill="#ffda12"/><rect x="255" y="234" width="1" height="6" fill="#ff9e0d"/><rect x="256" y="234" width="1" height="6" fill="#ffc910"/><rect x="257" y="234" width="5" height="6" fill="#fff414"/><rect x="262" y="234" width="1" height="6" fill="#ffd211"/><rect x="263" y="234" width="1" height="6" fill="#ff9e0d"/><rect x="264" y="234" width="1" height="6" fill="#ffd211"/><rect x="265" y="234" width="1" height="6" fill="#fff414"/><rect x="266" y="234" width="1" height="6" fill="#ffd211"/><rect x="267" y="234" width="1" height="6" fill="#ff9e0d"/><rect x="268" y="234" width="1" height="6" fill="#ffd211"/><rect x="269" y="234" width="1" height="6" fill="#fff414"/><rect x="270" y="234" width="1" height="6" fill="#ffc910"/><rect x="271" y="234" width="1" height="6" fill="#ff9e0d"/><rect x="272" y="234" width="1" height="6" fill="#ffda12"/><rect x="273" y="234" width="1" height="6" fill="#fff414"/><rect x="274" y="234" width="1" height="6" fill="#ffc010"/><rect x="275" y="234" width="1" height="6" fill="#ff9e0d"/><rect x="276" y="234" width="1" height="6" fill="#ffe313"/><rect x="277" y="234" width="1" height="6" fill="#fff414"/><rect x="278" y="234" width="1" height="6" fill="#ffc010"/><rect x="279" y="234" width="1" height="6" fill="#ff9e0d"/><rect x="280" y="234" width="1" height="6" fill="#ffe313"/><rect x="281" y="234" width="1" height="6" fill="#fff414"/><rect x="282" y="234" width="1" height="6" fill="#ffb80f"/><rect x="283" y="234" width="1" height="6" fill="#ff9e0d"/><rect x="284" y="234" width="1" height="6" fill="#ffeb13"/><rect x="285" y="234" width="1" height="6" fill="#fff414"/><rect x="286" y="234" width="1" height="6" fill="#ffaf0e"/><rect x="287" y="234" width="1" height="6" fill="#ff9e0d"/><rect x="288" y="234" width="1" height="6" fill="#ffeb13"/><rect x="289" y="234" width="1" height="6" fill="#fff414"/><rect x="290" y="234" width="1" height="6" fill="#ffaf0e"/><rect x="291" y="234" width="1" height="6" fill="#ff9e0d"/><rect x="292" y="234" width="2" height="6" fill="#fff414"/><rect x="294" y="234" width="2" height="6" fill="#ffa70e"/><rect x="296" y="234" width="2" height="6" fill="#fff414"/><rect x="298" y="234" width="2" height="6" fill="#ffa70e"/><rect x="300" y="234" width="134" height="6" fill="#fff414"/><rect x="434" y="234" width="1" height="6" fill="#ffa70e"/><rect x="435" y="234" width="6" height="6" fill="#ff9e0d"/><rect x="441" y="234" width="1" height="6" fill="#ffb60f"/><rect x="442" y="234" width="1" height="6" fill="#ffb90f"/><rect x="443" y="234" width="58" height="6" fill="#ff9e0d"/><rect x="501" y="234" width="1" height="6" fill="#ffad0e"/><rect x="502" y="234" width="1" height="6" fill="#ffa30d"/><rect x="503" y="234" width="16" height="6" fill="#ff9e0d"/><rect x="519" y="234" width="1" height="6" fill="#ffc910"/><rect x="520" y="234" width="1" height="6" fill="#ffcd11"/><rect x="521" y="234" width="5" height="6" fill="#ff9e0d"/><rect x="526" y="234" width="1" height="6" fill="#ffa00d"/><rect x="527" y="234" width="1" height="6" fill="#ffaf0e"/><rect x="528" y="234" width="1" height="6" fill="#ffbf10"/><rect x="529" y="234" width="1" height="6" fill="#ffd612"/><rect x="530" y="234" width="1" height="6" fill="#ffc510"/><rect x="531" y="234" width="1" height="6" fill="#ff9e0d"/><rect x="532" y="234" width="1" height="6" fill="#ffaa0e"/><rect x="533" y="234" width="1" height="6" fill="#ffc110"/><rect x="534" y="234" width="7" height="6" fill="#ff9e0d"/><rect x="541" y="234" width="1" height="6" fill="#ffba0f"/><rect x="542" y="234" width="1" height="6" fill="#ffbd10"/><rect x="543" y="234" width="19" height="6" fill="#ff9e0d"/><rect x="562" y="234" width="1" height="6" fill="#ffa60e"/><rect x="563" y="234" width="12" height="6" fill="#ff9e0d"/><rect x="575" y="234" width="1" height="6" fill="#ff920d"/><rect x="576" y="234" width="1" height="6" fill="#ff6d0e"/><rect x="577" y="234" width="1" height="6" fill="#ff860e"/><rect x="578" y="234" width="1" height="6" fill="#ff2410"/><rect x="579" y="234" width="1" height="6" fill="#ff490f"/><rect x="580" y="234" width="1" height="6" fill="#ff9e0d"/><rect x="581" y="234" width="1" height="6" fill="#ff790e"/><rect x="582" y="234" width="1" height="6" fill="#ff2410"/><rect x="583" y="234" width="1" height="6" fill="#ff550f"/><rect x="584" y="234" width="1" height="6" fill="#ff9e0d"/><rect x="585" y="234" width="1" height="6" fill="#ff790e"/><rect x="586" y="234" width="1" height="6" fill="#ff2410"/><rect x="587" y="234" width="1" height="6" fill="#ff550f"/><rect x="588" y="234" width="1" height="6" fill="#ff9e0d"/><rect x="589" y="234" width="1" height="6" fill="#ff6d0e"/><rect x="590" y="234" width="1" height="6" fill="#ff2410"/><rect x="591" y="234" width="1" height="6" fill="#ff610e"/><rect x="592" y="234" width="1" height="6" fill="#ff9e0d"/><rect x="593" y="234" width="1" height="6" fill="#ff610e"/><rect x="594" y="234" width="1" height="6" fill="#ff2410"/><rect x="595" y="234" width="1" height="6" fill="#ff610e"/><rect x="596" y="234" width="1" height="6" fill="#ff9e0d"/><rect x="597" y="234" width="1" height="6" fill="#ff610e"/><rect x="598" y="234" width="1" height="6" fill="#ff2410"/><rect x="599" y="234" width="1" height="6" fill="#ff6d0e"/><rect x="600" y="234" width="1" height="6" fill="#ff9e0d"/><rect x="601" y="234" width="1" height="6" fill="#ff550f"/><rect x="602" y="234" width="1" height="6" fill="#ff2410"/><rect x="603" y="234" width="1" height="6" fill="#ff790e"/><rect x="604" y="234" width="1" height="6" fill="#ff9e0d"/><rect x="605" y="234" width="1" height="6" fill="#ff490f"/><rect x="606" y="234" width="1" height="6" fill="#ff2410"/><rect x="607" y="234" width="1" height="6" fill="#ff790e"/><rect x="608" y="234" width="1" height="6" fill="#ff9e0d"/><rect x="609" y="234" width="1" height="6" fill="#ff490f"/><rect x="610" y="234" width="1" height="6" fill="#ff2410"/><rect x="611" y="234" width="1" height="6" fill="#ff860e"/><rect x="612" y="234" width="1" height="6" fill="#ff9e0d"/><rect x="613" y="234" width="1" height="6" fill="#ff3c0f"/><rect x="614" y="234" width="1" height="6" fill="#ff2410"/><rect x="615" y="234" width="1" height="6" fill="#ff920d"/><rect x="616" y="234" width="1" height="6" fill="#ff9e0d"/><rect x="617" y="234" width="1" height="6" fill="#ff3c0f"/><rect x="618" y="234" width="1" height="6" fill="#ff2410"/><rect x="619" y="234" width="1" height="6" fill="#ff920d"/><rect x="620" y="234" width="1" height="6" fill="#ff9e0d"/><rect x="621" y="234" width="1" height="6" fill="#ff3010"/><rect x="622" y="234" width="1" height="6" fill="#ff2410"/><rect x="623" y="234" width="2" height="6" fill="#ff9e0d"/><rect x="625" y="234" width="2" height="6" fill="#ff2410"/><rect x="627" y="234" width="2" height="6" fill="#ff9e0d"/><rect x="629" y="234" width="1" height="6" fill="#ff2410"/><rect x="630" y="234" width="1" height="6" fill="#ff3010"/><rect x="631" y="234" width="1" height="6" fill="#ff9e0d"/><rect x="632" y="234" width="1" height="6" fill="#ff920d"/><rect x="633" y="234" width="1" height="6" fill="#ff2410"/><rect x="634" y="234" width="1" height="6" fill="#ff3c0f"/><rect x="635" y="234" width="1" height="6" fill="#ff9e0d"/><rect x="636" y="234" width="1" height="6" fill="#ff860e"/><rect x="637" y="234" width="1" height="6" fill="#ff2410"/><rect x="638" y="234" width="1" height="6" fill="#ff3c0f"/><rect x="639" y="234" width="1" height="6" fill="#ff9e0d"/><rect x="640" y="234" width="1" height="6" fill="#ff860e"/><rect x="641" y="234" width="1" height="6" fill="#ff2410"/><rect x="642" y="234" width="1" height="6" fill="#ff490f"/><rect x="643" y="234" width="1" height="6" fill="#ff9e0d"/><rect x="644" y="234" width="1" height="6" fill="#ff790e"/><rect x="645" y="234" width="1" height="6" fill="#ff2410"/><rect x="646" y="234" width="1" height="6" fill="#ff550f"/><rect x="647" y="234" width="1" height="6" fill="#ffaf0e"/><rect x="648" y="234" width="1" height="6" fill="#fff414"/></g><rect x="81" y="234" width="568" height="1" fill="#000" opacity="0.22"/><rect x="81" y="240" width="568" height="1" fill="#d2d4de"/><rect x="80.5" y="234" width="1" height="7" fill="#b0a090" opacity="0.6"/><g filter="url(#idf)"><text transform="translate(82.3,21.9) scale(1,1.05)" font-family="Liberation Sans, sans-serif" font-size="21.5" font-weight="bold" text-anchor="start" fill="#000" textLength="105.3" lengthAdjust="spacingAndGlyphs" stroke="#000" stroke-width="0.3">2019/10/18</text><text transform="translate(236.0,21.8) scale(1,1.05)" font-family="Liberation Sans, sans-serif" font-size="21.5" font-weight="bold" text-anchor="start" fill="#000" textLength="188.0" lengthAdjust="spacingAndGlyphs" stroke="#000" stroke-width="0.3">AE(11) (Real-Time)</text><text x="479.3" y="21.8" font-family="Liberation Sans, sans-serif" font-size="10.95" font-weight="bold" text-anchor="start" fill="#000" word-spacing="1.6">WDC for Geomagnetism, Kyoto</text><text transform="translate(478.7,444.1) scale(1,1.04)" font-family="Liberation Sans, sans-serif" font-size="11.5" font-weight="normal" text-anchor="start" fill="#000" textLength="170.6" lengthAdjust="spacingAndGlyphs" stroke="#000" stroke-width="0.4">[Created at 2019-10-19 02:40UT]</text><text transform="translate(75.3,31.25) scale(1,1.02)" font-family="Liberation Sans, sans-serif" font-size="11.5" font-weight="bold" text-anchor="end" fill="#000" letter-spacing="0.95" stroke="#000" stroke-width="0.2">1000</text><text transform="translate(75.3,59.58) scale(1,1.02)" font-family="Liberation Sans, sans-serif" font-size="11.5" font-weight="bold" text-anchor="end" fill="#000" letter-spacing="0.95" stroke="#000" stroke-width="0.2">500</text><text transform="translate(75.3,87.91) scale(1,1.02)" font-family="Liberation Sans, sans-serif" font-size="11.5" font-weight="bold" text-anchor="end" fill="#000" letter-spacing="0.95" stroke="#000" stroke-width="0.2">0</text><rect x="46.0" y="112.4" width="3.7" height="1.9" fill="#000"/><text transform="translate(75.3,116.24) scale(1,1.02)" font-family="Liberation Sans, sans-serif" font-size="11.5" font-weight="bold" text-anchor="end" fill="#000" letter-spacing="0.95" stroke="#000" stroke-width="0.2">500</text><rect x="39.3" y="140.7" width="3.7" height="1.9" fill="#000"/><text transform="translate(75.3,144.57) scale(1,1.02)" font-family="Liberation Sans, sans-serif" font-size="11.5" font-weight="bold" text-anchor="end" fill="#000" letter-spacing="0.95" stroke="#000" stroke-width="0.2">1000</text><rect x="39.3" y="169.0" width="3.7" height="1.9" fill="#000"/><text transform="translate(75.3,172.9) scale(1,1.02)" font-family="Liberation Sans, sans-serif" font-size="11.5" font-weight="bold" text-anchor="end" fill="#000" letter-spacing="0.95" stroke="#000" stroke-width="0.2">1500</text><rect x="39.3" y="197.4" width="3.7" height="1.9" fill="#000"/><text transform="translate(75.3,201.23) scale(1,1.02)" font-family="Liberation Sans, sans-serif" font-size="11.5" font-weight="bold" text-anchor="end" fill="#000" letter-spacing="0.95" stroke="#000" stroke-width="0.2">2000</text><text x="75.9" y="43.3" font-family="Liberation Sans, sans-serif" font-size="12.1" font-weight="bold" text-anchor="end" fill="#000" letter-spacing="0.15">(nT)</text><text transform="translate(75.3,258.25) scale(1,1.02)" font-family="Liberation Sans, sans-serif" font-size="11.5" font-weight="bold" text-anchor="end" fill="#000" letter-spacing="0.95" stroke="#000" stroke-width="0.2">2000</text><text transform="translate(75.3,286.45) scale(1,1.02)" font-family="Liberation Sans, sans-serif" font-size="11.5" font-weight="bold" text-anchor="end" fill="#000" letter-spacing="0.95" stroke="#000" stroke-width="0.2">1500</text><text transform="translate(75.3,314.65) scale(1,1.02)" font-family="Liberation Sans, sans-serif" font-size="11.5" font-weight="bold" text-anchor="end" fill="#000" letter-spacing="0.95" stroke="#000" stroke-width="0.2">1000</text><text transform="translate(75.3,342.85) scale(1,1.02)" font-family="Liberation Sans, sans-serif" font-size="11.5" font-weight="bold" text-anchor="end" fill="#000" letter-spacing="0.95" stroke="#000" stroke-width="0.2">500</text><text transform="translate(75.3,371.05) scale(1,1.02)" font-family="Liberation Sans, sans-serif" font-size="11.5" font-weight="bold" text-anchor="end" fill="#000" letter-spacing="0.95" stroke="#000" stroke-width="0.2">0</text><rect x="46.0" y="395.4" width="3.7" height="1.9" fill="#000"/><text transform="translate(75.3,399.25) scale(1,1.02)" font-family="Liberation Sans, sans-serif" font-size="11.5" font-weight="bold" text-anchor="end" fill="#000" letter-spacing="0.95" stroke="#000" stroke-width="0.2">500</text><text x="75.9" y="270.3" font-family="Liberation Sans, sans-serif" font-size="12.1" font-weight="bold" text-anchor="end" fill="#000" letter-spacing="0.15">(nT)</text><text transform="translate(10.8,69.7) scale(1,1.06)" font-family="Liberation Sans, sans-serif" font-size="21.3" font-weight="bold" text-anchor="start" fill="#000" stroke="#000" stroke-width="0.3">AU</text><text transform="translate(10.5,120.9) scale(1,1.06)" font-family="Liberation Sans, sans-serif" font-size="21.3" font-weight="bold" text-anchor="start" fill="#000" stroke="#000" stroke-width="0.3">AL</text><text transform="translate(10.9,345.8) scale(1,1.06)" font-family="Liberation Sans, sans-serif" font-size="21.3" font-weight="bold" text-anchor="start" fill="#000" stroke="#000" stroke-width="0.3">AE</text><text transform="translate(10.9,388.5) scale(1,1.06)" font-family="Liberation Sans, sans-serif" font-size="21.3" font-weight="bold" text-anchor="start" fill="#000" stroke="#000" stroke-width="0.3">AO</text><text x="81.4" y="207.7" font-family="Liberation Sans, sans-serif" font-size="10.9" font-weight="bold" text-anchor="middle" fill="#000" letter-spacing="0.15" stroke="#000" stroke-width="0.25">00</text><text transform="translate(81.4,406.6) scale(1,1.08)" font-family="Liberation Sans, sans-serif" font-size="10.9" font-weight="bold" text-anchor="middle" fill="#000" letter-spacing="0.15" stroke="#000" stroke-width="0.25">00</text><text x="223.2" y="207.7" font-family="Liberation Sans, sans-serif" font-size="10.9" font-weight="bold" text-anchor="middle" fill="#000" letter-spacing="0.15" stroke="#000" stroke-width="0.25">06</text><text transform="translate(223.2,406.6) scale(1,1.08)" font-family="Liberation Sans, sans-serif" font-size="10.9" font-weight="bold" text-anchor="middle" fill="#000" letter-spacing="0.15" stroke="#000" stroke-width="0.25">06</text><text x="365.1" y="207.7" font-family="Liberation Sans, sans-serif" font-size="10.9" font-weight="bold" text-anchor="middle" fill="#000" letter-spacing="0.15" stroke="#000" stroke-width="0.25">12</text><text transform="translate(365.1,406.6) scale(1,1.08)" font-family="Liberation Sans, sans-serif" font-size="10.9" font-weight="bold" text-anchor="middle" fill="#000" letter-spacing="0.15" stroke="#000" stroke-width="0.25">12</text><text x="506.8" y="207.7" font-family="Liberation Sans, sans-serif" font-size="10.9" font-weight="bold" text-anchor="middle" fill="#000" letter-spacing="0.15" stroke="#000" stroke-width="0.25">18</text><text transform="translate(506.8,406.6) scale(1,1.08)" font-family="Liberation Sans, sans-serif" font-size="10.9" font-weight="bold" text-anchor="middle" fill="#000" letter-spacing="0.15" stroke="#000" stroke-width="0.25">18</text><text x="647.9" y="207.7" font-family="Liberation Sans, sans-serif" font-size="10.9" font-weight="bold" text-anchor="middle" fill="#000" letter-spacing="0.15" stroke="#000" stroke-width="0.25">24</text><text transform="translate(647.9,406.6) scale(1,1.08)" font-family="Liberation Sans, sans-serif" font-size="10.9" font-weight="bold" text-anchor="middle" fill="#000" letter-spacing="0.15" stroke="#000" stroke-width="0.25">24</text><text x="353.1" y="222.0" font-family="Liberation Sans, sans-serif" font-size="13.6" font-weight="bold" text-anchor="start" fill="#000" textLength="23.6" lengthAdjust="spacingAndGlyphs" >U T</text><text transform="translate(353.1,420.6) scale(1,1.1)" font-family="Liberation Sans, sans-serif" font-size="13.6" font-weight="bold" text-anchor="start" fill="#000" textLength="23.6" lengthAdjust="spacingAndGlyphs" >U T</text><text x="670.0" y="197.4" font-family="Liberation Sans, sans-serif" font-size="11.2" font-weight="bold" text-anchor="end" fill="#c8c8c8" letter-spacing="0.7" stroke="#c8c8c8" stroke-width="0.3">1</text><text x="670.0" y="395.6" font-family="Liberation Sans, sans-serif" font-size="11.2" font-weight="bold" text-anchor="end" fill="#c8c8c8" letter-spacing="0.7" stroke="#c8c8c8" stroke-width="0.3">1</text><text x="670.0" y="185.4" font-family="Liberation Sans, sans-serif" font-size="11.2" font-weight="bold" text-anchor="end" fill="#555" letter-spacing="0.7" stroke="#555" stroke-width="0.3">2</text><text x="670.0" y="383.6" font-family="Liberation Sans, sans-serif" font-size="11.2" font-weight="bold" text-anchor="end" fill="#555" letter-spacing="0.7" stroke="#555" stroke-width="0.3">2</text><text x="670.0" y="173.3" font-family="Liberation Sans, sans-serif" font-size="11.2" font-weight="bold" text-anchor="end" fill="#000" letter-spacing="0.7" stroke="#000" stroke-width="0.3">3</text><text x="670.0" y="371.5" font-family="Liberation Sans, sans-serif" font-size="11.2" font-weight="bold" text-anchor="end" fill="#000" letter-spacing="0.7" stroke="#000" stroke-width="0.3">3</text><text x="670.0" y="161.3" font-family="Liberation Sans, sans-serif" font-size="11.2" font-weight="bold" text-anchor="end" fill="#ff00e6" letter-spacing="0.7" stroke="#ff00e6" stroke-width="0.3">4</text><text x="670.0" y="359.5" font-family="Liberation Sans, sans-serif" font-size="11.2" font-weight="bold" text-anchor="end" fill="#ff00e6" letter-spacing="0.7" stroke="#ff00e6" stroke-width="0.3">4</text><text x="670.0" y="149.2" font-family="Liberation Sans, sans-serif" font-size="11.2" font-weight="bold" text-anchor="end" fill="#2a00ff" letter-spacing="0.7" stroke="#2a00ff" stroke-width="0.3">5</text><text x="670.0" y="347.4" font-family="Liberation Sans, sans-serif" font-size="11.2" font-weight="bold" text-anchor="end" fill="#2a00ff" letter-spacing="0.7" stroke="#2a00ff" stroke-width="0.3">5</text><text x="670.0" y="137.2" font-family="Liberation Sans, sans-serif" font-size="11.2" font-weight="bold" text-anchor="end" fill="#0a6cff" letter-spacing="0.7" stroke="#0a6cff" stroke-width="0.3">6</text><text x="670.0" y="335.4" font-family="Liberation Sans, sans-serif" font-size="11.2" font-weight="bold" text-anchor="end" fill="#0a6cff" letter-spacing="0.7" stroke="#0a6cff" stroke-width="0.3">6</text><text x="670.0" y="125.2" font-family="Liberation Sans, sans-serif" font-size="11.2" font-weight="bold" text-anchor="end" fill="#00e6cc" letter-spacing="0.7" stroke="#00e6cc" stroke-width="0.3">7</text><text x="670.0" y="323.4" font-family="Liberation Sans, sans-serif" font-size="11.2" font-weight="bold" text-anchor="end" fill="#00e6cc" letter-spacing="0.7" stroke="#00e6cc" stroke-width="0.3">7</text><text x="670.0" y="113.1" font-family="Liberation Sans, sans-serif" font-size="11.2" font-weight="bold" text-anchor="end" fill="#99ff00" letter-spacing="0.7" stroke="#99ff00" stroke-width="0.3">8</text><text x="670.0" y="311.3" font-family="Liberation Sans, sans-serif" font-size="11.2" font-weight="bold" text-anchor="end" fill="#99ff00" letter-spacing="0.7" stroke="#99ff00" stroke-width="0.3">8</text><text x="670.0" y="101.1" font-family="Liberation Sans, sans-serif" font-size="11.2" font-weight="bold" text-anchor="end" fill="#ffee00" letter-spacing="0.7" stroke="#ffee00" stroke-width="0.3">9</text><text x="670.0" y="299.3" font-family="Liberation Sans, sans-serif" font-size="11.2" font-weight="bold" text-anchor="end" fill="#ffee00" letter-spacing="0.7" stroke="#ffee00" stroke-width="0.3">9</text><text x="670.0" y="89.0" font-family="Liberation Sans, sans-serif" font-size="11.2" font-weight="bold" text-anchor="end" fill="#ff960a" letter-spacing="0.7" stroke="#ff960a" stroke-width="0.3">10</text><text x="670.0" y="287.2" font-family="Liberation Sans, sans-serif" font-size="11.2" font-weight="bold" text-anchor="end" fill="#ff960a" letter-spacing="0.7" stroke="#ff960a" stroke-width="0.3">10</text><text x="670.0" y="77.0" font-family="Liberation Sans, sans-serif" font-size="11.2" font-weight="bold" text-anchor="end" fill="#ff2300" letter-spacing="0.7" stroke="#ff2300" stroke-width="0.3">11</text><text x="670.0" y="275.2" font-family="Liberation Sans, sans-serif" font-size="11.2" font-weight="bold" text-anchor="end" fill="#ff2300" letter-spacing="0.7" stroke="#ff2300" stroke-width="0.3">11</text><text x="670.0" y="65.0" font-family="Liberation Sans, sans-serif" font-size="11.2" font-weight="bold" text-anchor="end" fill="#ff1482" letter-spacing="0.7" stroke="#ff1482" stroke-width="0.3">12</text><text x="670.0" y="263.2" font-family="Liberation Sans, sans-serif" font-size="11.2" font-weight="bold" text-anchor="end" fill="#ff1482" letter-spacing="0.7" stroke="#ff1482" stroke-width="0.3">12</text></g></svg>
</body></html>
